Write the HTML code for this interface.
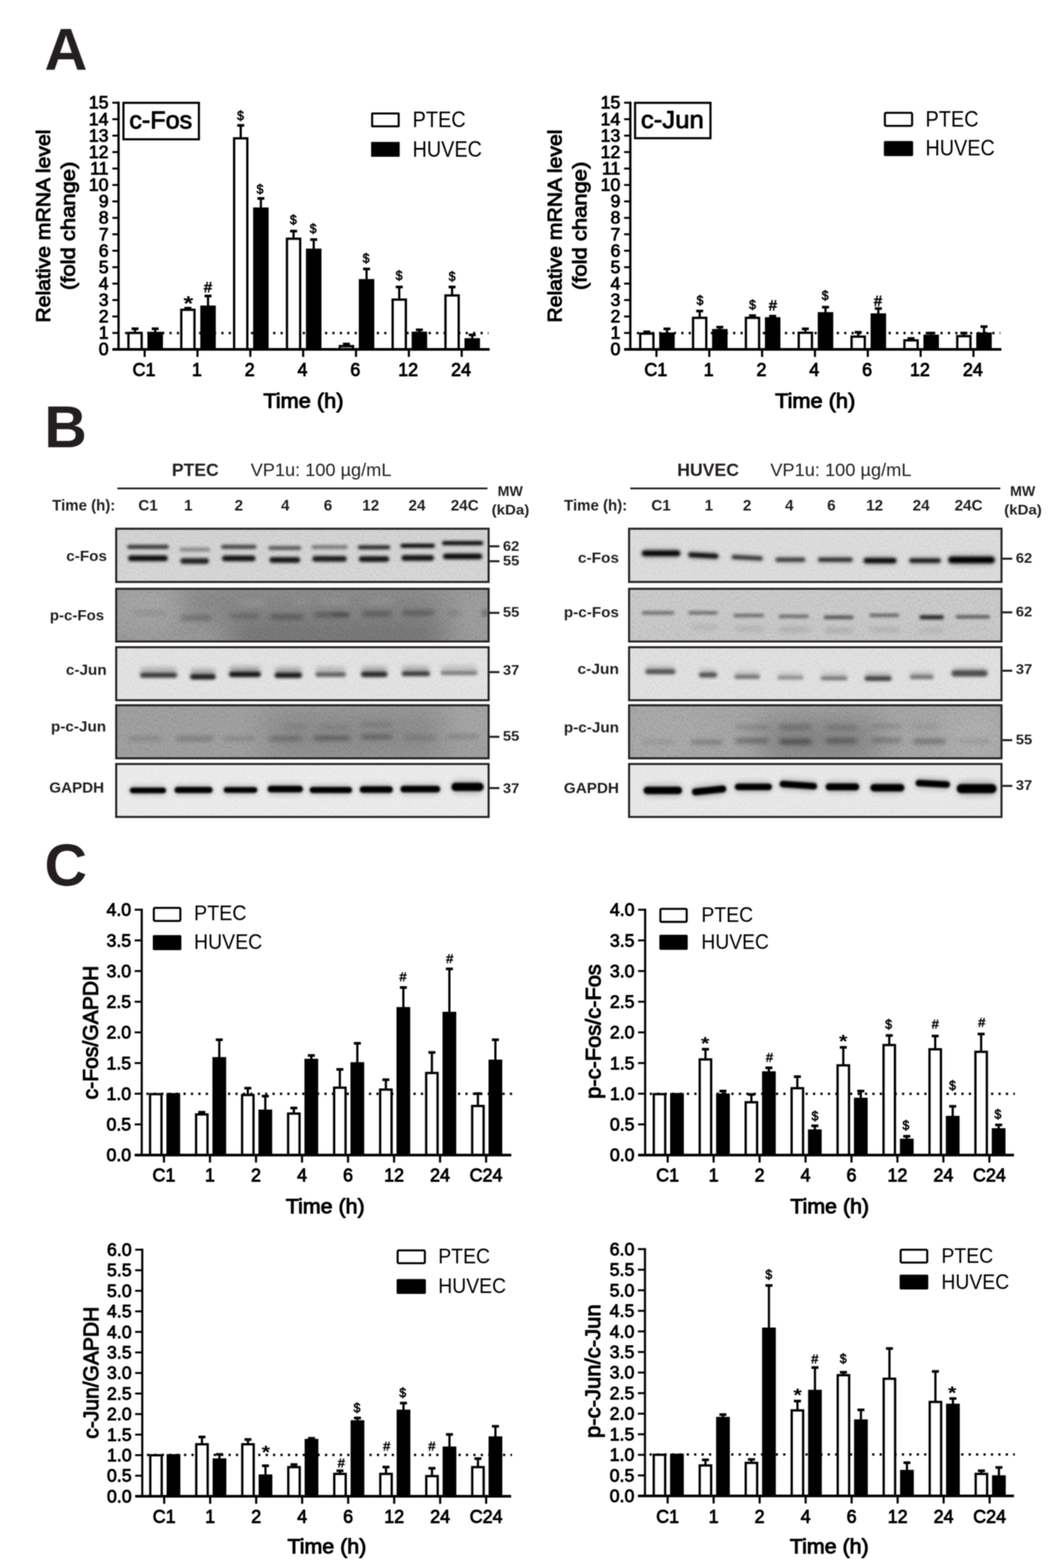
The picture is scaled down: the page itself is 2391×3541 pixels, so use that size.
<!DOCTYPE html>
<html lang="en">
<head>
<meta charset="utf-8">
<title>c-Fos and c-Jun expression in PTEC and HUVEC after VP1u treatment</title>
<style>
html, body { margin: 0; padding: 0; background: #fff; }
body { width: 2391px; height: 3541px; }
svg { display: block; font-family: "Liberation Sans", Arial, Helvetica, sans-serif; }
svg text { white-space: pre; }
</style>
</head>
<body>
<svg width="2391" height="3541" viewBox="0 0 2391 3541">
<defs><filter id="soft" x="0" y="0" width="100%" height="100%" filterUnits="userSpaceOnUse" color-interpolation-filters="sRGB"><feGaussianBlur stdDeviation="0.85"/></filter></defs>
<rect width="2391" height="3541" fill="#fff"/>
<g filter="url(#soft)">
<rect width="2391" height="3541" fill="#fff"/>
<text x="100.5" y="157.5" font-size="134" font-weight="700" fill="#231f20">A</text>
<text x="100.0" y="1010.0" font-size="133" font-weight="700" fill="#231f20">B</text>
<text x="100.5" y="2000.0" font-size="133" font-weight="700" fill="#231f20">C</text>
<g>
<line x1="282.3" y1="752.2" x2="1103.0" y2="752.2" stroke="#000" stroke-width="5.2" stroke-dasharray="5 11.72"/>
<line x1="304.9" y1="740.0" x2="304.9" y2="751.3" stroke="#000" stroke-width="5.0"/>
<line x1="297.0" y1="742.4" x2="312.8" y2="742.4" stroke="#000" stroke-width="6.0"/>
<rect x="290.0" y="751.9" width="29.8" height="37.1" fill="#fff" stroke="#000" stroke-width="5.2"/>
<line x1="350.4" y1="740.0" x2="350.4" y2="751.3" stroke="#000" stroke-width="5.0"/>
<line x1="342.5" y1="742.4" x2="358.3" y2="742.4" stroke="#000" stroke-width="6.0"/>
<rect x="332.9" y="749.3" width="35.0" height="39.7" fill="#000"/>
<line x1="424.2" y1="693.5" x2="424.2" y2="699.0" stroke="#000" stroke-width="5.0"/>
<line x1="416.3" y1="695.9" x2="432.1" y2="695.9" stroke="#000" stroke-width="6.0"/>
<rect x="409.3" y="699.6" width="29.8" height="89.4" fill="#fff" stroke="#000" stroke-width="5.2"/>
<line x1="469.7" y1="666.0" x2="469.7" y2="692.0" stroke="#000" stroke-width="5.0"/>
<line x1="461.8" y1="668.4" x2="477.6" y2="668.4" stroke="#000" stroke-width="6.0"/>
<rect x="452.2" y="690.0" width="35.0" height="99.0" fill="#000"/>
<line x1="543.5" y1="280.8" x2="543.5" y2="311.8" stroke="#000" stroke-width="5.0"/>
<line x1="535.6" y1="283.2" x2="551.4" y2="283.2" stroke="#000" stroke-width="6.0"/>
<rect x="528.6" y="312.4" width="29.8" height="476.6" fill="#fff" stroke="#000" stroke-width="5.2"/>
<line x1="589.0" y1="445.7" x2="589.0" y2="470.5" stroke="#000" stroke-width="5.0"/>
<line x1="581.1" y1="448.1" x2="596.9" y2="448.1" stroke="#000" stroke-width="6.0"/>
<rect x="571.5" y="468.5" width="35.0" height="320.5" fill="#000"/>
<line x1="662.8" y1="519.5" x2="662.8" y2="538.5" stroke="#000" stroke-width="5.0"/>
<line x1="654.9" y1="521.9" x2="670.7" y2="521.9" stroke="#000" stroke-width="6.0"/>
<rect x="647.9" y="539.1" width="29.8" height="249.9" fill="#fff" stroke="#000" stroke-width="5.2"/>
<line x1="708.3" y1="538.6" x2="708.3" y2="563.4" stroke="#000" stroke-width="5.0"/>
<line x1="700.4" y1="541.0" x2="716.2" y2="541.0" stroke="#000" stroke-width="6.0"/>
<rect x="690.8" y="561.4" width="35.0" height="227.6" fill="#000"/>
<line x1="782.1" y1="774.5" x2="782.1" y2="781.0" stroke="#000" stroke-width="5.0"/>
<line x1="774.2" y1="776.9" x2="790.0" y2="776.9" stroke="#000" stroke-width="6.0"/>
<rect x="767.2" y="781.6" width="29.8" height="7.4" fill="#c4c4c4" stroke="#000" stroke-width="5.2"/>
<line x1="827.6" y1="605.0" x2="827.6" y2="632.2" stroke="#000" stroke-width="5.0"/>
<line x1="819.7" y1="607.4" x2="835.5" y2="607.4" stroke="#000" stroke-width="6.0"/>
<rect x="810.1" y="630.2" width="35.0" height="158.8" fill="#000"/>
<line x1="901.4" y1="645.7" x2="901.4" y2="676.0" stroke="#000" stroke-width="5.0"/>
<line x1="893.5" y1="648.1" x2="909.3" y2="648.1" stroke="#000" stroke-width="6.0"/>
<rect x="886.5" y="676.6" width="29.8" height="112.4" fill="#fff" stroke="#000" stroke-width="5.2"/>
<line x1="946.9" y1="742.4" x2="946.9" y2="751.0" stroke="#000" stroke-width="5.0"/>
<line x1="939.0" y1="744.8" x2="954.8" y2="744.8" stroke="#000" stroke-width="6.0"/>
<rect x="929.4" y="749.0" width="35.0" height="40.0" fill="#000"/>
<line x1="1020.7" y1="645.7" x2="1020.7" y2="666.6" stroke="#000" stroke-width="5.0"/>
<line x1="1012.8" y1="648.1" x2="1028.6" y2="648.1" stroke="#000" stroke-width="6.0"/>
<rect x="1005.8" y="667.2" width="29.8" height="121.8" fill="#fff" stroke="#000" stroke-width="5.2"/>
<line x1="1066.2" y1="753.9" x2="1066.2" y2="765.7" stroke="#000" stroke-width="5.0"/>
<line x1="1058.3" y1="756.3" x2="1074.1" y2="756.3" stroke="#000" stroke-width="6.0"/>
<rect x="1048.7" y="763.7" width="35.0" height="25.3" fill="#000"/>
<line x1="267.6" y1="229.6" x2="267.6" y2="791.6" stroke="#000" stroke-width="5.2"/>
<line x1="253.6" y1="789.0" x2="1105.5" y2="789.0" stroke="#000" stroke-width="5.8"/>
<line x1="253.6" y1="751.9" x2="267.6" y2="751.9" stroke="#000" stroke-width="4.4"/>
<line x1="253.6" y1="714.7" x2="267.6" y2="714.7" stroke="#000" stroke-width="4.4"/>
<line x1="253.6" y1="677.6" x2="267.6" y2="677.6" stroke="#000" stroke-width="4.4"/>
<line x1="253.6" y1="640.5" x2="267.6" y2="640.5" stroke="#000" stroke-width="4.4"/>
<line x1="253.6" y1="603.4" x2="267.6" y2="603.4" stroke="#000" stroke-width="4.4"/>
<line x1="253.6" y1="566.2" x2="267.6" y2="566.2" stroke="#000" stroke-width="4.4"/>
<line x1="253.6" y1="529.1" x2="267.6" y2="529.1" stroke="#000" stroke-width="4.4"/>
<line x1="253.6" y1="492.0" x2="267.6" y2="492.0" stroke="#000" stroke-width="4.4"/>
<line x1="253.6" y1="454.8" x2="267.6" y2="454.8" stroke="#000" stroke-width="4.4"/>
<line x1="253.6" y1="417.7" x2="267.6" y2="417.7" stroke="#000" stroke-width="4.4"/>
<line x1="253.6" y1="380.6" x2="267.6" y2="380.6" stroke="#000" stroke-width="4.4"/>
<line x1="253.6" y1="343.4" x2="267.6" y2="343.4" stroke="#000" stroke-width="4.4"/>
<line x1="253.6" y1="306.3" x2="267.6" y2="306.3" stroke="#000" stroke-width="4.4"/>
<line x1="253.6" y1="269.2" x2="267.6" y2="269.2" stroke="#000" stroke-width="4.4"/>
<line x1="253.6" y1="232.0" x2="267.6" y2="232.0" stroke="#000" stroke-width="4.4"/>
<text x="245.1" y="802.4" font-size="40.5" text-anchor="end" textLength="22.2" lengthAdjust="spacingAndGlyphs" fill="#000" stroke="#000" stroke-width="1.74" stroke-linejoin="round">0</text>
<text x="245.1" y="765.3" font-size="40.5" text-anchor="end" textLength="22.2" lengthAdjust="spacingAndGlyphs" fill="#000" stroke="#000" stroke-width="1.74" stroke-linejoin="round">1</text>
<text x="245.1" y="728.1" font-size="40.5" text-anchor="end" textLength="22.2" lengthAdjust="spacingAndGlyphs" fill="#000" stroke="#000" stroke-width="1.74" stroke-linejoin="round">2</text>
<text x="245.1" y="691.0" font-size="40.5" text-anchor="end" textLength="22.2" lengthAdjust="spacingAndGlyphs" fill="#000" stroke="#000" stroke-width="1.74" stroke-linejoin="round">3</text>
<text x="245.1" y="653.9" font-size="40.5" text-anchor="end" textLength="22.2" lengthAdjust="spacingAndGlyphs" fill="#000" stroke="#000" stroke-width="1.74" stroke-linejoin="round">4</text>
<text x="245.1" y="616.8" font-size="40.5" text-anchor="end" textLength="22.2" lengthAdjust="spacingAndGlyphs" fill="#000" stroke="#000" stroke-width="1.74" stroke-linejoin="round">5</text>
<text x="245.1" y="579.6" font-size="40.5" text-anchor="end" textLength="22.2" lengthAdjust="spacingAndGlyphs" fill="#000" stroke="#000" stroke-width="1.74" stroke-linejoin="round">6</text>
<text x="245.1" y="542.5" font-size="40.5" text-anchor="end" textLength="22.2" lengthAdjust="spacingAndGlyphs" fill="#000" stroke="#000" stroke-width="1.74" stroke-linejoin="round">7</text>
<text x="245.1" y="505.4" font-size="40.5" text-anchor="end" textLength="22.2" lengthAdjust="spacingAndGlyphs" fill="#000" stroke="#000" stroke-width="1.74" stroke-linejoin="round">8</text>
<text x="245.1" y="468.2" font-size="40.5" text-anchor="end" textLength="22.2" lengthAdjust="spacingAndGlyphs" fill="#000" stroke="#000" stroke-width="1.74" stroke-linejoin="round">9</text>
<text x="245.1" y="431.1" font-size="40.5" text-anchor="end" textLength="44.5" lengthAdjust="spacingAndGlyphs" fill="#000" stroke="#000" stroke-width="1.74" stroke-linejoin="round">10</text>
<text x="245.1" y="394.0" font-size="40.5" text-anchor="end" textLength="41.5" lengthAdjust="spacingAndGlyphs" fill="#000" stroke="#000" stroke-width="1.74" stroke-linejoin="round">11</text>
<text x="245.1" y="356.8" font-size="40.5" text-anchor="end" textLength="44.5" lengthAdjust="spacingAndGlyphs" fill="#000" stroke="#000" stroke-width="1.74" stroke-linejoin="round">12</text>
<text x="245.1" y="319.7" font-size="40.5" text-anchor="end" textLength="44.5" lengthAdjust="spacingAndGlyphs" fill="#000" stroke="#000" stroke-width="1.74" stroke-linejoin="round">13</text>
<text x="245.1" y="282.6" font-size="40.5" text-anchor="end" textLength="44.5" lengthAdjust="spacingAndGlyphs" fill="#000" stroke="#000" stroke-width="1.74" stroke-linejoin="round">14</text>
<text x="245.1" y="245.4" font-size="40.5" text-anchor="end" textLength="44.5" lengthAdjust="spacingAndGlyphs" fill="#000" stroke="#000" stroke-width="1.74" stroke-linejoin="round">15</text>
<line x1="326.6" y1="789.0" x2="326.6" y2="806.0" stroke="#000" stroke-width="4.8"/>
<text x="325.1" y="848.6" font-size="42" text-anchor="middle" textLength="51.8" lengthAdjust="spacingAndGlyphs" fill="#000" stroke="#000" stroke-width="1.81" stroke-linejoin="round">C1</text>
<line x1="445.9" y1="789.0" x2="445.9" y2="806.0" stroke="#000" stroke-width="4.8"/>
<text x="444.4" y="848.6" font-size="42" text-anchor="middle" textLength="22.5" lengthAdjust="spacingAndGlyphs" fill="#000" stroke="#000" stroke-width="1.81" stroke-linejoin="round">1</text>
<line x1="565.2" y1="789.0" x2="565.2" y2="806.0" stroke="#000" stroke-width="4.8"/>
<text x="563.7" y="848.6" font-size="42" text-anchor="middle" textLength="22.5" lengthAdjust="spacingAndGlyphs" fill="#000" stroke="#000" stroke-width="1.81" stroke-linejoin="round">2</text>
<line x1="684.5" y1="789.0" x2="684.5" y2="806.0" stroke="#000" stroke-width="4.8"/>
<text x="683.0" y="848.6" font-size="42" text-anchor="middle" textLength="22.5" lengthAdjust="spacingAndGlyphs" fill="#000" stroke="#000" stroke-width="1.81" stroke-linejoin="round">4</text>
<line x1="803.8" y1="789.0" x2="803.8" y2="806.0" stroke="#000" stroke-width="4.8"/>
<text x="802.3" y="848.6" font-size="42" text-anchor="middle" textLength="22.5" lengthAdjust="spacingAndGlyphs" fill="#000" stroke="#000" stroke-width="1.81" stroke-linejoin="round">6</text>
<line x1="923.1" y1="789.0" x2="923.1" y2="806.0" stroke="#000" stroke-width="4.8"/>
<text x="921.6" y="848.6" font-size="42" text-anchor="middle" textLength="45.0" lengthAdjust="spacingAndGlyphs" fill="#000" stroke="#000" stroke-width="1.81" stroke-linejoin="round">12</text>
<line x1="1042.4" y1="789.0" x2="1042.4" y2="806.0" stroke="#000" stroke-width="4.8"/>
<text x="1040.9" y="848.6" font-size="42" text-anchor="middle" textLength="45.0" lengthAdjust="spacingAndGlyphs" fill="#000" stroke="#000" stroke-width="1.81" stroke-linejoin="round">24</text>
<text x="685.0" y="920.5" font-size="47" text-anchor="middle" textLength="181.0" lengthAdjust="spacingAndGlyphs" fill="#000" stroke="#000" stroke-width="2.02" stroke-linejoin="round">Time (h)</text>
<text transform="translate(112.5 510.5) rotate(-90)" font-size="44" text-anchor="middle" textLength="436.0" lengthAdjust="spacingAndGlyphs" fill="#000" stroke="#000" stroke-width="1.89" stroke-linejoin="round">Relative mRNA level</text>
<text transform="translate(168.5 510.0) rotate(-90)" font-size="44" text-anchor="middle" textLength="290.0" lengthAdjust="spacingAndGlyphs" fill="#000" stroke="#000" stroke-width="1.89" stroke-linejoin="round">(fold change)</text>
<rect x="840.2" y="256.3" width="59.9" height="28.9" fill="#fff" stroke="#000" stroke-width="4.6" rx="0.5"/>
<rect x="837.9" y="320.5" width="64.5" height="33.5" fill="#000" rx="1.0"/>
<text x="931.5" y="287.0" font-size="50" textLength="120.0" lengthAdjust="spacingAndGlyphs" fill="#000">PTEC</text>
<text x="931.5" y="353.5" font-size="50" textLength="156.5" lengthAdjust="spacingAndGlyphs" fill="#000">HUVEC</text>
<text x="425.2" y="701.0" font-size="46" font-weight="700" text-anchor="middle" textLength="22.0" lengthAdjust="spacingAndGlyphs" fill="#000">*</text>
<text x="469.6" y="659.7" font-size="33" text-anchor="middle" textLength="18.5" lengthAdjust="spacingAndGlyphs" fill="#000" stroke="#000" stroke-width="1.32" stroke-linejoin="round">#</text>
<text x="543.0" y="270.5" font-size="29.5" text-anchor="middle" textLength="15.5" lengthAdjust="spacingAndGlyphs" fill="#000" stroke="#000" stroke-width="1.18" stroke-linejoin="round">$</text>
<text x="587.0" y="437.0" font-size="29.5" text-anchor="middle" textLength="15.5" lengthAdjust="spacingAndGlyphs" fill="#000" stroke="#000" stroke-width="1.18" stroke-linejoin="round">$</text>
<text x="662.3" y="506.0" font-size="29.5" text-anchor="middle" textLength="15.5" lengthAdjust="spacingAndGlyphs" fill="#000" stroke="#000" stroke-width="1.18" stroke-linejoin="round">$</text>
<text x="707.0" y="526.0" font-size="29.5" text-anchor="middle" textLength="15.5" lengthAdjust="spacingAndGlyphs" fill="#000" stroke="#000" stroke-width="1.18" stroke-linejoin="round">$</text>
<text x="826.4" y="592.8" font-size="29.5" text-anchor="middle" textLength="15.5" lengthAdjust="spacingAndGlyphs" fill="#000" stroke="#000" stroke-width="1.18" stroke-linejoin="round">$</text>
<text x="901.0" y="632.0" font-size="29.5" text-anchor="middle" textLength="15.5" lengthAdjust="spacingAndGlyphs" fill="#000" stroke="#000" stroke-width="1.18" stroke-linejoin="round">$</text>
<text x="1020.7" y="633.5" font-size="29.5" text-anchor="middle" textLength="15.5" lengthAdjust="spacingAndGlyphs" fill="#000" stroke="#000" stroke-width="1.18" stroke-linejoin="round">$</text>
<rect x="278.7" y="232.2" width="170.4" height="82.4" fill="#fff" stroke="#000" stroke-width="4.8"/>
<text x="362.9" y="290.0" font-size="55" text-anchor="middle" textLength="142.0" lengthAdjust="spacingAndGlyphs" fill="#000" stroke="#000" stroke-width="1.76" stroke-linejoin="round">c-Fos</text>
</g>
<g>
<line x1="1437.8" y1="752.2" x2="2258.5" y2="752.2" stroke="#000" stroke-width="5.2" stroke-dasharray="5 11.72"/>
<line x1="1460.4" y1="747.0" x2="1460.4" y2="752.8" stroke="#000" stroke-width="5.0"/>
<line x1="1452.5" y1="749.4" x2="1468.3" y2="749.4" stroke="#000" stroke-width="6.0"/>
<rect x="1445.5" y="753.4" width="29.8" height="35.6" fill="#fff" stroke="#000" stroke-width="5.2"/>
<line x1="1505.9" y1="740.2" x2="1505.9" y2="752.8" stroke="#000" stroke-width="5.0"/>
<line x1="1498.0" y1="742.6" x2="1513.8" y2="742.6" stroke="#000" stroke-width="6.0"/>
<rect x="1488.4" y="750.8" width="35.0" height="38.2" fill="#000"/>
<line x1="1579.7" y1="700.0" x2="1579.7" y2="717.2" stroke="#000" stroke-width="5.0"/>
<line x1="1571.8" y1="702.4" x2="1587.6" y2="702.4" stroke="#000" stroke-width="6.0"/>
<rect x="1564.8" y="717.8" width="29.8" height="71.2" fill="#fff" stroke="#000" stroke-width="5.2"/>
<line x1="1625.2" y1="736.4" x2="1625.2" y2="745.0" stroke="#000" stroke-width="5.0"/>
<line x1="1617.3" y1="738.8" x2="1633.1" y2="738.8" stroke="#000" stroke-width="6.0"/>
<rect x="1607.7" y="743.0" width="35.0" height="46.0" fill="#000"/>
<line x1="1699.0" y1="710.4" x2="1699.0" y2="717.2" stroke="#000" stroke-width="5.0"/>
<line x1="1691.1" y1="712.8" x2="1706.9" y2="712.8" stroke="#000" stroke-width="6.0"/>
<rect x="1684.1" y="717.8" width="29.8" height="71.2" fill="#fff" stroke="#000" stroke-width="5.2"/>
<line x1="1744.5" y1="711.5" x2="1744.5" y2="718.3" stroke="#000" stroke-width="5.0"/>
<line x1="1736.6" y1="713.9" x2="1752.4" y2="713.9" stroke="#000" stroke-width="6.0"/>
<rect x="1727.0" y="716.3" width="35.0" height="72.7" fill="#000"/>
<line x1="1818.3" y1="740.2" x2="1818.3" y2="750.9" stroke="#000" stroke-width="5.0"/>
<line x1="1810.4" y1="742.6" x2="1826.2" y2="742.6" stroke="#000" stroke-width="6.0"/>
<rect x="1803.4" y="751.5" width="29.8" height="37.5" fill="#fff" stroke="#000" stroke-width="5.2"/>
<line x1="1863.8" y1="691.3" x2="1863.8" y2="706.9" stroke="#000" stroke-width="5.0"/>
<line x1="1855.9" y1="693.7" x2="1871.7" y2="693.7" stroke="#000" stroke-width="6.0"/>
<rect x="1846.3" y="704.9" width="35.0" height="84.1" fill="#000"/>
<line x1="1937.6" y1="747.9" x2="1937.6" y2="759.6" stroke="#000" stroke-width="5.0"/>
<line x1="1929.7" y1="750.3" x2="1945.5" y2="750.3" stroke="#000" stroke-width="6.0"/>
<rect x="1922.7" y="760.2" width="29.8" height="28.8" fill="#fff" stroke="#000" stroke-width="5.2"/>
<line x1="1983.1" y1="694.3" x2="1983.1" y2="709.6" stroke="#000" stroke-width="5.0"/>
<line x1="1975.2" y1="696.7" x2="1991.0" y2="696.7" stroke="#000" stroke-width="6.0"/>
<rect x="1965.6" y="707.6" width="35.0" height="81.4" fill="#000"/>
<line x1="2056.9" y1="762.0" x2="2056.9" y2="768.0" stroke="#000" stroke-width="5.0"/>
<line x1="2049.0" y1="764.4" x2="2064.8" y2="764.4" stroke="#000" stroke-width="6.0"/>
<rect x="2042.0" y="768.6" width="29.8" height="20.4" fill="#fff" stroke="#000" stroke-width="5.2"/>
<line x1="2102.4" y1="749.8" x2="2102.4" y2="757.7" stroke="#000" stroke-width="5.0"/>
<line x1="2094.5" y1="752.2" x2="2110.3" y2="752.2" stroke="#000" stroke-width="6.0"/>
<rect x="2084.9" y="755.7" width="35.0" height="33.3" fill="#000"/>
<line x1="2176.2" y1="749.8" x2="2176.2" y2="758.5" stroke="#000" stroke-width="5.0"/>
<line x1="2168.3" y1="752.2" x2="2184.1" y2="752.2" stroke="#000" stroke-width="6.0"/>
<rect x="2161.3" y="759.1" width="29.8" height="29.9" fill="#fff" stroke="#000" stroke-width="5.2"/>
<line x1="2221.7" y1="735.2" x2="2221.7" y2="752.8" stroke="#000" stroke-width="5.0"/>
<line x1="2213.8" y1="737.6" x2="2229.6" y2="737.6" stroke="#000" stroke-width="6.0"/>
<rect x="2204.2" y="750.8" width="35.0" height="38.2" fill="#000"/>
<line x1="1423.1" y1="229.6" x2="1423.1" y2="791.6" stroke="#000" stroke-width="5.2"/>
<line x1="1409.1" y1="789.0" x2="2261.0" y2="789.0" stroke="#000" stroke-width="5.8"/>
<line x1="1409.1" y1="751.9" x2="1423.1" y2="751.9" stroke="#000" stroke-width="4.4"/>
<line x1="1409.1" y1="714.7" x2="1423.1" y2="714.7" stroke="#000" stroke-width="4.4"/>
<line x1="1409.1" y1="677.6" x2="1423.1" y2="677.6" stroke="#000" stroke-width="4.4"/>
<line x1="1409.1" y1="640.5" x2="1423.1" y2="640.5" stroke="#000" stroke-width="4.4"/>
<line x1="1409.1" y1="603.4" x2="1423.1" y2="603.4" stroke="#000" stroke-width="4.4"/>
<line x1="1409.1" y1="566.2" x2="1423.1" y2="566.2" stroke="#000" stroke-width="4.4"/>
<line x1="1409.1" y1="529.1" x2="1423.1" y2="529.1" stroke="#000" stroke-width="4.4"/>
<line x1="1409.1" y1="492.0" x2="1423.1" y2="492.0" stroke="#000" stroke-width="4.4"/>
<line x1="1409.1" y1="454.8" x2="1423.1" y2="454.8" stroke="#000" stroke-width="4.4"/>
<line x1="1409.1" y1="417.7" x2="1423.1" y2="417.7" stroke="#000" stroke-width="4.4"/>
<line x1="1409.1" y1="380.6" x2="1423.1" y2="380.6" stroke="#000" stroke-width="4.4"/>
<line x1="1409.1" y1="343.4" x2="1423.1" y2="343.4" stroke="#000" stroke-width="4.4"/>
<line x1="1409.1" y1="306.3" x2="1423.1" y2="306.3" stroke="#000" stroke-width="4.4"/>
<line x1="1409.1" y1="269.2" x2="1423.1" y2="269.2" stroke="#000" stroke-width="4.4"/>
<line x1="1409.1" y1="232.0" x2="1423.1" y2="232.0" stroke="#000" stroke-width="4.4"/>
<text x="1400.6" y="802.4" font-size="40.5" text-anchor="end" textLength="22.2" lengthAdjust="spacingAndGlyphs" fill="#000" stroke="#000" stroke-width="1.74" stroke-linejoin="round">0</text>
<text x="1400.6" y="765.3" font-size="40.5" text-anchor="end" textLength="22.2" lengthAdjust="spacingAndGlyphs" fill="#000" stroke="#000" stroke-width="1.74" stroke-linejoin="round">1</text>
<text x="1400.6" y="728.1" font-size="40.5" text-anchor="end" textLength="22.2" lengthAdjust="spacingAndGlyphs" fill="#000" stroke="#000" stroke-width="1.74" stroke-linejoin="round">2</text>
<text x="1400.6" y="691.0" font-size="40.5" text-anchor="end" textLength="22.2" lengthAdjust="spacingAndGlyphs" fill="#000" stroke="#000" stroke-width="1.74" stroke-linejoin="round">3</text>
<text x="1400.6" y="653.9" font-size="40.5" text-anchor="end" textLength="22.2" lengthAdjust="spacingAndGlyphs" fill="#000" stroke="#000" stroke-width="1.74" stroke-linejoin="round">4</text>
<text x="1400.6" y="616.8" font-size="40.5" text-anchor="end" textLength="22.2" lengthAdjust="spacingAndGlyphs" fill="#000" stroke="#000" stroke-width="1.74" stroke-linejoin="round">5</text>
<text x="1400.6" y="579.6" font-size="40.5" text-anchor="end" textLength="22.2" lengthAdjust="spacingAndGlyphs" fill="#000" stroke="#000" stroke-width="1.74" stroke-linejoin="round">6</text>
<text x="1400.6" y="542.5" font-size="40.5" text-anchor="end" textLength="22.2" lengthAdjust="spacingAndGlyphs" fill="#000" stroke="#000" stroke-width="1.74" stroke-linejoin="round">7</text>
<text x="1400.6" y="505.4" font-size="40.5" text-anchor="end" textLength="22.2" lengthAdjust="spacingAndGlyphs" fill="#000" stroke="#000" stroke-width="1.74" stroke-linejoin="round">8</text>
<text x="1400.6" y="468.2" font-size="40.5" text-anchor="end" textLength="22.2" lengthAdjust="spacingAndGlyphs" fill="#000" stroke="#000" stroke-width="1.74" stroke-linejoin="round">9</text>
<text x="1400.6" y="431.1" font-size="40.5" text-anchor="end" textLength="44.5" lengthAdjust="spacingAndGlyphs" fill="#000" stroke="#000" stroke-width="1.74" stroke-linejoin="round">10</text>
<text x="1400.6" y="394.0" font-size="40.5" text-anchor="end" textLength="41.5" lengthAdjust="spacingAndGlyphs" fill="#000" stroke="#000" stroke-width="1.74" stroke-linejoin="round">11</text>
<text x="1400.6" y="356.8" font-size="40.5" text-anchor="end" textLength="44.5" lengthAdjust="spacingAndGlyphs" fill="#000" stroke="#000" stroke-width="1.74" stroke-linejoin="round">12</text>
<text x="1400.6" y="319.7" font-size="40.5" text-anchor="end" textLength="44.5" lengthAdjust="spacingAndGlyphs" fill="#000" stroke="#000" stroke-width="1.74" stroke-linejoin="round">13</text>
<text x="1400.6" y="282.6" font-size="40.5" text-anchor="end" textLength="44.5" lengthAdjust="spacingAndGlyphs" fill="#000" stroke="#000" stroke-width="1.74" stroke-linejoin="round">14</text>
<text x="1400.6" y="245.4" font-size="40.5" text-anchor="end" textLength="44.5" lengthAdjust="spacingAndGlyphs" fill="#000" stroke="#000" stroke-width="1.74" stroke-linejoin="round">15</text>
<line x1="1482.1" y1="789.0" x2="1482.1" y2="806.0" stroke="#000" stroke-width="4.8"/>
<text x="1480.6" y="848.6" font-size="42" text-anchor="middle" textLength="51.8" lengthAdjust="spacingAndGlyphs" fill="#000" stroke="#000" stroke-width="1.81" stroke-linejoin="round">C1</text>
<line x1="1601.4" y1="789.0" x2="1601.4" y2="806.0" stroke="#000" stroke-width="4.8"/>
<text x="1599.9" y="848.6" font-size="42" text-anchor="middle" textLength="22.5" lengthAdjust="spacingAndGlyphs" fill="#000" stroke="#000" stroke-width="1.81" stroke-linejoin="round">1</text>
<line x1="1720.7" y1="789.0" x2="1720.7" y2="806.0" stroke="#000" stroke-width="4.8"/>
<text x="1719.2" y="848.6" font-size="42" text-anchor="middle" textLength="22.5" lengthAdjust="spacingAndGlyphs" fill="#000" stroke="#000" stroke-width="1.81" stroke-linejoin="round">2</text>
<line x1="1840.0" y1="789.0" x2="1840.0" y2="806.0" stroke="#000" stroke-width="4.8"/>
<text x="1838.5" y="848.6" font-size="42" text-anchor="middle" textLength="22.5" lengthAdjust="spacingAndGlyphs" fill="#000" stroke="#000" stroke-width="1.81" stroke-linejoin="round">4</text>
<line x1="1959.3" y1="789.0" x2="1959.3" y2="806.0" stroke="#000" stroke-width="4.8"/>
<text x="1957.8" y="848.6" font-size="42" text-anchor="middle" textLength="22.5" lengthAdjust="spacingAndGlyphs" fill="#000" stroke="#000" stroke-width="1.81" stroke-linejoin="round">6</text>
<line x1="2078.6" y1="789.0" x2="2078.6" y2="806.0" stroke="#000" stroke-width="4.8"/>
<text x="2077.1" y="848.6" font-size="42" text-anchor="middle" textLength="45.0" lengthAdjust="spacingAndGlyphs" fill="#000" stroke="#000" stroke-width="1.81" stroke-linejoin="round">12</text>
<line x1="2197.9" y1="789.0" x2="2197.9" y2="806.0" stroke="#000" stroke-width="4.8"/>
<text x="2196.4" y="848.6" font-size="42" text-anchor="middle" textLength="45.0" lengthAdjust="spacingAndGlyphs" fill="#000" stroke="#000" stroke-width="1.81" stroke-linejoin="round">24</text>
<text x="1840.5" y="920.5" font-size="47" text-anchor="middle" textLength="181.0" lengthAdjust="spacingAndGlyphs" fill="#000" stroke="#000" stroke-width="2.02" stroke-linejoin="round">Time (h)</text>
<text transform="translate(1268.0 510.5) rotate(-90)" font-size="44" text-anchor="middle" textLength="436.0" lengthAdjust="spacingAndGlyphs" fill="#000" stroke="#000" stroke-width="1.89" stroke-linejoin="round">Relative mRNA level</text>
<text transform="translate(1324.0 510.0) rotate(-90)" font-size="44" text-anchor="middle" textLength="290.0" lengthAdjust="spacingAndGlyphs" fill="#000" stroke="#000" stroke-width="1.89" stroke-linejoin="round">(fold change)</text>
<rect x="1997.9" y="254.8" width="61.4" height="29.4" fill="#fff" stroke="#000" stroke-width="4.6" rx="2.5"/>
<rect x="1995.6" y="318.5" width="66.0" height="34.0" fill="#000" rx="3.0"/>
<text x="2089.5" y="286.0" font-size="50" textLength="120.0" lengthAdjust="spacingAndGlyphs" fill="#000">PTEC</text>
<text x="2089.5" y="351.0" font-size="50" textLength="156.5" lengthAdjust="spacingAndGlyphs" fill="#000">HUVEC</text>
<text x="1580.5" y="687.7" font-size="29.5" text-anchor="middle" textLength="15.5" lengthAdjust="spacingAndGlyphs" fill="#000" stroke="#000" stroke-width="1.18" stroke-linejoin="round">$</text>
<text x="1699.0" y="698.0" font-size="29.5" text-anchor="middle" textLength="15.5" lengthAdjust="spacingAndGlyphs" fill="#000" stroke="#000" stroke-width="1.18" stroke-linejoin="round">$</text>
<text x="1745.0" y="701.0" font-size="33" text-anchor="middle" textLength="18.5" lengthAdjust="spacingAndGlyphs" fill="#000" stroke="#000" stroke-width="1.32" stroke-linejoin="round">#</text>
<text x="1862.9" y="677.0" font-size="29.5" text-anchor="middle" textLength="15.5" lengthAdjust="spacingAndGlyphs" fill="#000" stroke="#000" stroke-width="1.18" stroke-linejoin="round">$</text>
<text x="1982.2" y="690.6" font-size="33" text-anchor="middle" textLength="18.5" lengthAdjust="spacingAndGlyphs" fill="#000" stroke="#000" stroke-width="1.32" stroke-linejoin="round">#</text>
<rect x="1433.9" y="232.2" width="170.2" height="79.9" fill="#fff" stroke="#000" stroke-width="4.8"/>
<text x="1518.0" y="288.7" font-size="55" text-anchor="middle" textLength="142.0" lengthAdjust="spacingAndGlyphs" fill="#000" stroke="#000" stroke-width="1.76" stroke-linejoin="round">c-Jun</text>
</g>
<g>
<line x1="330.5" y1="2470.2" x2="1156.5" y2="2470.2" stroke="#000" stroke-width="5.2" stroke-dasharray="5 11.75"/>
<rect x="338.8" y="2470.9" width="25.8" height="137.5" fill="#fff" stroke="#000" stroke-width="5.2"/>
<rect x="375.7" y="2468.3" width="31.0" height="140.1" fill="#000"/>
<line x1="455.6" y1="2509.3" x2="455.6" y2="2516.1" stroke="#000" stroke-width="5.0"/>
<line x1="447.7" y1="2511.7" x2="463.5" y2="2511.7" stroke="#000" stroke-width="6.0"/>
<rect x="442.7" y="2516.7" width="25.8" height="91.7" fill="#fff" stroke="#000" stroke-width="5.2"/>
<line x1="495.1" y1="2345.7" x2="495.1" y2="2389.2" stroke="#000" stroke-width="5.0"/>
<line x1="487.2" y1="2348.1" x2="503.0" y2="2348.1" stroke="#000" stroke-width="6.0"/>
<rect x="479.6" y="2387.2" width="31.0" height="221.2" fill="#000"/>
<line x1="559.5" y1="2455.0" x2="559.5" y2="2472.2" stroke="#000" stroke-width="5.0"/>
<line x1="551.6" y1="2457.4" x2="567.4" y2="2457.4" stroke="#000" stroke-width="6.0"/>
<rect x="546.6" y="2472.8" width="25.8" height="135.6" fill="#fff" stroke="#000" stroke-width="5.2"/>
<line x1="599.0" y1="2473.0" x2="599.0" y2="2507.7" stroke="#000" stroke-width="5.0"/>
<line x1="591.1" y1="2475.4" x2="606.9" y2="2475.4" stroke="#000" stroke-width="6.0"/>
<rect x="583.5" y="2505.7" width="31.0" height="102.7" fill="#000"/>
<line x1="663.4" y1="2499.8" x2="663.4" y2="2514.2" stroke="#000" stroke-width="5.0"/>
<line x1="655.5" y1="2502.2" x2="671.3" y2="2502.2" stroke="#000" stroke-width="6.0"/>
<rect x="650.5" y="2514.8" width="25.8" height="93.6" fill="#fff" stroke="#000" stroke-width="5.2"/>
<line x1="702.9" y1="2381.2" x2="702.9" y2="2393.0" stroke="#000" stroke-width="5.0"/>
<line x1="695.0" y1="2383.6" x2="710.8" y2="2383.6" stroke="#000" stroke-width="6.0"/>
<rect x="687.4" y="2391.0" width="31.0" height="217.4" fill="#000"/>
<line x1="767.3" y1="2412.6" x2="767.3" y2="2455.7" stroke="#000" stroke-width="5.0"/>
<line x1="759.4" y1="2415.0" x2="775.2" y2="2415.0" stroke="#000" stroke-width="6.0"/>
<rect x="754.4" y="2456.3" width="25.8" height="152.1" fill="#fff" stroke="#000" stroke-width="5.2"/>
<line x1="806.8" y1="2353.7" x2="806.8" y2="2400.7" stroke="#000" stroke-width="5.0"/>
<line x1="798.9" y1="2356.1" x2="814.7" y2="2356.1" stroke="#000" stroke-width="6.0"/>
<rect x="791.3" y="2398.7" width="31.0" height="209.7" fill="#000"/>
<line x1="871.2" y1="2435.9" x2="871.2" y2="2460.0" stroke="#000" stroke-width="5.0"/>
<line x1="863.3" y1="2438.3" x2="879.1" y2="2438.3" stroke="#000" stroke-width="6.0"/>
<rect x="858.3" y="2460.6" width="25.8" height="147.8" fill="#fff" stroke="#000" stroke-width="5.2"/>
<line x1="910.7" y1="2227.7" x2="910.7" y2="2276.2" stroke="#000" stroke-width="5.0"/>
<line x1="902.8" y1="2230.1" x2="918.6" y2="2230.1" stroke="#000" stroke-width="6.0"/>
<rect x="895.2" y="2274.2" width="31.0" height="334.2" fill="#000"/>
<line x1="975.1" y1="2374.3" x2="975.1" y2="2422.5" stroke="#000" stroke-width="5.0"/>
<line x1="967.2" y1="2376.7" x2="983.0" y2="2376.7" stroke="#000" stroke-width="6.0"/>
<rect x="962.2" y="2423.1" width="25.8" height="185.3" fill="#fff" stroke="#000" stroke-width="5.2"/>
<line x1="1014.6" y1="2185.6" x2="1014.6" y2="2286.9" stroke="#000" stroke-width="5.0"/>
<line x1="1006.7" y1="2188.0" x2="1022.5" y2="2188.0" stroke="#000" stroke-width="6.0"/>
<rect x="999.1" y="2284.9" width="31.0" height="323.5" fill="#000"/>
<line x1="1079.0" y1="2467.3" x2="1079.0" y2="2497.0" stroke="#000" stroke-width="5.0"/>
<line x1="1071.1" y1="2469.7" x2="1086.9" y2="2469.7" stroke="#000" stroke-width="6.0"/>
<rect x="1066.1" y="2497.6" width="25.8" height="110.8" fill="#fff" stroke="#000" stroke-width="5.2"/>
<line x1="1118.5" y1="2345.7" x2="1118.5" y2="2394.9" stroke="#000" stroke-width="5.0"/>
<line x1="1110.6" y1="2348.1" x2="1126.4" y2="2348.1" stroke="#000" stroke-width="6.0"/>
<rect x="1103.0" y="2392.9" width="31.0" height="215.5" fill="#000"/>
<line x1="320.0" y1="2052.0" x2="320.0" y2="2610.8" stroke="#000" stroke-width="4.8"/>
<line x1="304.0" y1="2608.4" x2="1154.5" y2="2608.4" stroke="#000" stroke-width="6.0"/>
<line x1="304.0" y1="2539.2" x2="320.0" y2="2539.2" stroke="#000" stroke-width="4.4"/>
<line x1="304.0" y1="2469.9" x2="320.0" y2="2469.9" stroke="#000" stroke-width="4.4"/>
<line x1="304.0" y1="2400.7" x2="320.0" y2="2400.7" stroke="#000" stroke-width="4.4"/>
<line x1="304.0" y1="2331.4" x2="320.0" y2="2331.4" stroke="#000" stroke-width="4.4"/>
<line x1="304.0" y1="2262.2" x2="320.0" y2="2262.2" stroke="#000" stroke-width="4.4"/>
<line x1="304.0" y1="2192.9" x2="320.0" y2="2192.9" stroke="#000" stroke-width="4.4"/>
<line x1="304.0" y1="2123.7" x2="320.0" y2="2123.7" stroke="#000" stroke-width="4.4"/>
<line x1="304.0" y1="2054.4" x2="320.0" y2="2054.4" stroke="#000" stroke-width="4.4"/>
<text x="296.0" y="2622.2" font-size="41" text-anchor="end" textLength="55.6" lengthAdjust="spacingAndGlyphs" fill="#000" stroke="#000" stroke-width="1.76" stroke-linejoin="round">0.0</text>
<text x="296.0" y="2553.0" font-size="41" text-anchor="end" textLength="55.6" lengthAdjust="spacingAndGlyphs" fill="#000" stroke="#000" stroke-width="1.76" stroke-linejoin="round">0.5</text>
<text x="296.0" y="2483.7" font-size="41" text-anchor="end" textLength="55.6" lengthAdjust="spacingAndGlyphs" fill="#000" stroke="#000" stroke-width="1.76" stroke-linejoin="round">1.0</text>
<text x="296.0" y="2414.5" font-size="41" text-anchor="end" textLength="55.6" lengthAdjust="spacingAndGlyphs" fill="#000" stroke="#000" stroke-width="1.76" stroke-linejoin="round">1.5</text>
<text x="296.0" y="2345.2" font-size="41" text-anchor="end" textLength="55.6" lengthAdjust="spacingAndGlyphs" fill="#000" stroke="#000" stroke-width="1.76" stroke-linejoin="round">2.0</text>
<text x="296.0" y="2276.0" font-size="41" text-anchor="end" textLength="55.6" lengthAdjust="spacingAndGlyphs" fill="#000" stroke="#000" stroke-width="1.76" stroke-linejoin="round">2.5</text>
<text x="296.0" y="2206.7" font-size="41" text-anchor="end" textLength="55.6" lengthAdjust="spacingAndGlyphs" fill="#000" stroke="#000" stroke-width="1.76" stroke-linejoin="round">3.0</text>
<text x="296.0" y="2137.5" font-size="41" text-anchor="end" textLength="55.6" lengthAdjust="spacingAndGlyphs" fill="#000" stroke="#000" stroke-width="1.76" stroke-linejoin="round">3.5</text>
<text x="296.0" y="2068.2" font-size="41" text-anchor="end" textLength="55.6" lengthAdjust="spacingAndGlyphs" fill="#000" stroke="#000" stroke-width="1.76" stroke-linejoin="round">4.0</text>
<line x1="370.2" y1="2608.4" x2="370.2" y2="2625.4" stroke="#000" stroke-width="4.8"/>
<text x="370.2" y="2668.0" font-size="42" text-anchor="middle" textLength="51.8" lengthAdjust="spacingAndGlyphs" fill="#000" stroke="#000" stroke-width="1.81" stroke-linejoin="round">C1</text>
<line x1="474.1" y1="2608.4" x2="474.1" y2="2625.4" stroke="#000" stroke-width="4.8"/>
<text x="474.1" y="2668.0" font-size="42" text-anchor="middle" textLength="22.5" lengthAdjust="spacingAndGlyphs" fill="#000" stroke="#000" stroke-width="1.81" stroke-linejoin="round">1</text>
<line x1="578.0" y1="2608.4" x2="578.0" y2="2625.4" stroke="#000" stroke-width="4.8"/>
<text x="578.0" y="2668.0" font-size="42" text-anchor="middle" textLength="22.5" lengthAdjust="spacingAndGlyphs" fill="#000" stroke="#000" stroke-width="1.81" stroke-linejoin="round">2</text>
<line x1="681.9" y1="2608.4" x2="681.9" y2="2625.4" stroke="#000" stroke-width="4.8"/>
<text x="681.9" y="2668.0" font-size="42" text-anchor="middle" textLength="22.5" lengthAdjust="spacingAndGlyphs" fill="#000" stroke="#000" stroke-width="1.81" stroke-linejoin="round">4</text>
<line x1="785.8" y1="2608.4" x2="785.8" y2="2625.4" stroke="#000" stroke-width="4.8"/>
<text x="785.8" y="2668.0" font-size="42" text-anchor="middle" textLength="22.5" lengthAdjust="spacingAndGlyphs" fill="#000" stroke="#000" stroke-width="1.81" stroke-linejoin="round">6</text>
<line x1="889.7" y1="2608.4" x2="889.7" y2="2625.4" stroke="#000" stroke-width="4.8"/>
<text x="889.7" y="2668.0" font-size="42" text-anchor="middle" textLength="45.0" lengthAdjust="spacingAndGlyphs" fill="#000" stroke="#000" stroke-width="1.81" stroke-linejoin="round">12</text>
<line x1="993.6" y1="2608.4" x2="993.6" y2="2625.4" stroke="#000" stroke-width="4.8"/>
<text x="993.6" y="2668.0" font-size="42" text-anchor="middle" textLength="45.0" lengthAdjust="spacingAndGlyphs" fill="#000" stroke="#000" stroke-width="1.81" stroke-linejoin="round">24</text>
<line x1="1097.5" y1="2608.4" x2="1097.5" y2="2625.4" stroke="#000" stroke-width="4.8"/>
<text x="1097.5" y="2668.0" font-size="42" text-anchor="middle" textLength="74.3" lengthAdjust="spacingAndGlyphs" fill="#000" stroke="#000" stroke-width="1.81" stroke-linejoin="round">C24</text>
<text x="734.3" y="2740.0" font-size="46" text-anchor="middle" textLength="178.0" lengthAdjust="spacingAndGlyphs" fill="#000" stroke="#000" stroke-width="1.98" stroke-linejoin="round">Time (h)</text>
<text transform="translate(221.0 2331.8) rotate(-90)" font-size="48" text-anchor="middle" textLength="302.0" lengthAdjust="spacingAndGlyphs" fill="#000" stroke="#000" stroke-width="2.06" stroke-linejoin="round">c-Fos/GAPDH</text>
<rect x="347.3" y="2050.3" width="59.9" height="29.4" fill="#fff" stroke="#000" stroke-width="4.6" rx="2.5"/>
<rect x="345.0" y="2111.8" width="64.5" height="34.0" fill="#000" rx="3.0"/>
<text x="438.0" y="2078.3" font-size="48" textLength="118.5" lengthAdjust="spacingAndGlyphs" fill="#000">PTEC</text>
<text x="438.0" y="2143.3" font-size="48" textLength="154.0" lengthAdjust="spacingAndGlyphs" fill="#000">HUVEC</text>
<text x="909.8" y="2216.0" font-size="29" text-anchor="middle" textLength="16.2" lengthAdjust="spacingAndGlyphs" fill="#000" stroke="#000" stroke-width="1.16" stroke-linejoin="round">#</text>
<text x="1015.3" y="2175.0" font-size="29" text-anchor="middle" textLength="16.2" lengthAdjust="spacingAndGlyphs" fill="#000" stroke="#000" stroke-width="1.16" stroke-linejoin="round">#</text>
</g>
<g>
<line x1="1467.1" y1="2470.2" x2="2291.3" y2="2470.2" stroke="#000" stroke-width="5.2" stroke-dasharray="5 11.75"/>
<rect x="1476.1" y="2470.9" width="25.8" height="137.5" fill="#fff" stroke="#000" stroke-width="5.2"/>
<rect x="1513.0" y="2468.3" width="31.0" height="140.1" fill="#000"/>
<line x1="1592.8" y1="2367.0" x2="1592.8" y2="2391.9" stroke="#000" stroke-width="5.0"/>
<line x1="1584.8" y1="2369.4" x2="1600.7" y2="2369.4" stroke="#000" stroke-width="6.0"/>
<rect x="1579.8" y="2392.5" width="25.8" height="215.9" fill="#fff" stroke="#000" stroke-width="5.2"/>
<line x1="1632.2" y1="2461.5" x2="1632.2" y2="2471.4" stroke="#000" stroke-width="5.0"/>
<line x1="1624.3" y1="2463.9" x2="1640.2" y2="2463.9" stroke="#000" stroke-width="6.0"/>
<rect x="1616.8" y="2469.4" width="31.0" height="139.0" fill="#000"/>
<line x1="1696.5" y1="2469.2" x2="1696.5" y2="2488.6" stroke="#000" stroke-width="5.0"/>
<line x1="1688.6" y1="2471.6" x2="1704.4" y2="2471.6" stroke="#000" stroke-width="6.0"/>
<rect x="1683.6" y="2489.2" width="25.8" height="119.2" fill="#fff" stroke="#000" stroke-width="5.2"/>
<line x1="1736.0" y1="2409.0" x2="1736.0" y2="2421.3" stroke="#000" stroke-width="5.0"/>
<line x1="1728.1" y1="2411.4" x2="1743.9" y2="2411.4" stroke="#000" stroke-width="6.0"/>
<rect x="1720.5" y="2419.3" width="31.0" height="189.1" fill="#000"/>
<line x1="1800.2" y1="2429.0" x2="1800.2" y2="2456.9" stroke="#000" stroke-width="5.0"/>
<line x1="1792.3" y1="2431.4" x2="1808.2" y2="2431.4" stroke="#000" stroke-width="6.0"/>
<rect x="1787.3" y="2457.5" width="25.8" height="150.9" fill="#fff" stroke="#000" stroke-width="5.2"/>
<line x1="1839.8" y1="2540.0" x2="1839.8" y2="2552.5" stroke="#000" stroke-width="5.0"/>
<line x1="1831.8" y1="2542.4" x2="1847.7" y2="2542.4" stroke="#000" stroke-width="6.0"/>
<rect x="1824.2" y="2550.5" width="31.0" height="57.9" fill="#000"/>
<line x1="1904.0" y1="2362.9" x2="1904.0" y2="2405.3" stroke="#000" stroke-width="5.0"/>
<line x1="1896.1" y1="2365.3" x2="1911.9" y2="2365.3" stroke="#000" stroke-width="6.0"/>
<rect x="1891.1" y="2405.9" width="25.8" height="202.5" fill="#fff" stroke="#000" stroke-width="5.2"/>
<line x1="1943.5" y1="2461.5" x2="1943.5" y2="2481.0" stroke="#000" stroke-width="5.0"/>
<line x1="1935.6" y1="2463.9" x2="1951.4" y2="2463.9" stroke="#000" stroke-width="6.0"/>
<rect x="1928.0" y="2479.0" width="31.0" height="129.4" fill="#000"/>
<line x1="2007.8" y1="2336.0" x2="2007.8" y2="2359.4" stroke="#000" stroke-width="5.0"/>
<line x1="1999.8" y1="2338.4" x2="2015.7" y2="2338.4" stroke="#000" stroke-width="6.0"/>
<rect x="1994.8" y="2360.0" width="25.8" height="248.4" fill="#fff" stroke="#000" stroke-width="5.2"/>
<line x1="2047.2" y1="2563.6" x2="2047.2" y2="2573.5" stroke="#000" stroke-width="5.0"/>
<line x1="2039.3" y1="2566.0" x2="2055.2" y2="2566.0" stroke="#000" stroke-width="6.0"/>
<rect x="2031.8" y="2571.5" width="31.0" height="36.9" fill="#000"/>
<line x1="2111.5" y1="2337.2" x2="2111.5" y2="2369.0" stroke="#000" stroke-width="5.0"/>
<line x1="2103.6" y1="2339.6" x2="2119.4" y2="2339.6" stroke="#000" stroke-width="6.0"/>
<rect x="2098.6" y="2369.6" width="25.8" height="238.8" fill="#fff" stroke="#000" stroke-width="5.2"/>
<line x1="2151.0" y1="2496.0" x2="2151.0" y2="2521.9" stroke="#000" stroke-width="5.0"/>
<line x1="2143.1" y1="2498.4" x2="2158.9" y2="2498.4" stroke="#000" stroke-width="6.0"/>
<rect x="2135.5" y="2519.9" width="31.0" height="88.5" fill="#000"/>
<line x1="2215.2" y1="2332.7" x2="2215.2" y2="2374.7" stroke="#000" stroke-width="5.0"/>
<line x1="2207.3" y1="2335.1" x2="2223.2" y2="2335.1" stroke="#000" stroke-width="6.0"/>
<rect x="2202.3" y="2375.3" width="25.8" height="233.1" fill="#fff" stroke="#000" stroke-width="5.2"/>
<line x1="2254.8" y1="2538.0" x2="2254.8" y2="2549.8" stroke="#000" stroke-width="5.0"/>
<line x1="2246.8" y1="2540.4" x2="2262.7" y2="2540.4" stroke="#000" stroke-width="6.0"/>
<rect x="2239.2" y="2547.8" width="31.0" height="60.6" fill="#000"/>
<line x1="1456.6" y1="2052.0" x2="1456.6" y2="2610.8" stroke="#000" stroke-width="4.8"/>
<line x1="1440.6" y1="2608.4" x2="2289.3" y2="2608.4" stroke="#000" stroke-width="6.0"/>
<line x1="1440.6" y1="2539.2" x2="1456.6" y2="2539.2" stroke="#000" stroke-width="4.4"/>
<line x1="1440.6" y1="2469.9" x2="1456.6" y2="2469.9" stroke="#000" stroke-width="4.4"/>
<line x1="1440.6" y1="2400.7" x2="1456.6" y2="2400.7" stroke="#000" stroke-width="4.4"/>
<line x1="1440.6" y1="2331.4" x2="1456.6" y2="2331.4" stroke="#000" stroke-width="4.4"/>
<line x1="1440.6" y1="2262.2" x2="1456.6" y2="2262.2" stroke="#000" stroke-width="4.4"/>
<line x1="1440.6" y1="2192.9" x2="1456.6" y2="2192.9" stroke="#000" stroke-width="4.4"/>
<line x1="1440.6" y1="2123.7" x2="1456.6" y2="2123.7" stroke="#000" stroke-width="4.4"/>
<line x1="1440.6" y1="2054.4" x2="1456.6" y2="2054.4" stroke="#000" stroke-width="4.4"/>
<text x="1432.6" y="2622.2" font-size="41" text-anchor="end" textLength="55.6" lengthAdjust="spacingAndGlyphs" fill="#000" stroke="#000" stroke-width="1.76" stroke-linejoin="round">0.0</text>
<text x="1432.6" y="2553.0" font-size="41" text-anchor="end" textLength="55.6" lengthAdjust="spacingAndGlyphs" fill="#000" stroke="#000" stroke-width="1.76" stroke-linejoin="round">0.5</text>
<text x="1432.6" y="2483.7" font-size="41" text-anchor="end" textLength="55.6" lengthAdjust="spacingAndGlyphs" fill="#000" stroke="#000" stroke-width="1.76" stroke-linejoin="round">1.0</text>
<text x="1432.6" y="2414.5" font-size="41" text-anchor="end" textLength="55.6" lengthAdjust="spacingAndGlyphs" fill="#000" stroke="#000" stroke-width="1.76" stroke-linejoin="round">1.5</text>
<text x="1432.6" y="2345.2" font-size="41" text-anchor="end" textLength="55.6" lengthAdjust="spacingAndGlyphs" fill="#000" stroke="#000" stroke-width="1.76" stroke-linejoin="round">2.0</text>
<text x="1432.6" y="2276.0" font-size="41" text-anchor="end" textLength="55.6" lengthAdjust="spacingAndGlyphs" fill="#000" stroke="#000" stroke-width="1.76" stroke-linejoin="round">2.5</text>
<text x="1432.6" y="2206.7" font-size="41" text-anchor="end" textLength="55.6" lengthAdjust="spacingAndGlyphs" fill="#000" stroke="#000" stroke-width="1.76" stroke-linejoin="round">3.0</text>
<text x="1432.6" y="2137.5" font-size="41" text-anchor="end" textLength="55.6" lengthAdjust="spacingAndGlyphs" fill="#000" stroke="#000" stroke-width="1.76" stroke-linejoin="round">3.5</text>
<text x="1432.6" y="2068.2" font-size="41" text-anchor="end" textLength="55.6" lengthAdjust="spacingAndGlyphs" fill="#000" stroke="#000" stroke-width="1.76" stroke-linejoin="round">4.0</text>
<line x1="1507.5" y1="2608.4" x2="1507.5" y2="2625.4" stroke="#000" stroke-width="4.8"/>
<text x="1507.5" y="2668.0" font-size="42" text-anchor="middle" textLength="51.8" lengthAdjust="spacingAndGlyphs" fill="#000" stroke="#000" stroke-width="1.81" stroke-linejoin="round">C1</text>
<line x1="1611.2" y1="2608.4" x2="1611.2" y2="2625.4" stroke="#000" stroke-width="4.8"/>
<text x="1611.2" y="2668.0" font-size="42" text-anchor="middle" textLength="22.5" lengthAdjust="spacingAndGlyphs" fill="#000" stroke="#000" stroke-width="1.81" stroke-linejoin="round">1</text>
<line x1="1715.0" y1="2608.4" x2="1715.0" y2="2625.4" stroke="#000" stroke-width="4.8"/>
<text x="1715.0" y="2668.0" font-size="42" text-anchor="middle" textLength="22.5" lengthAdjust="spacingAndGlyphs" fill="#000" stroke="#000" stroke-width="1.81" stroke-linejoin="round">2</text>
<line x1="1818.8" y1="2608.4" x2="1818.8" y2="2625.4" stroke="#000" stroke-width="4.8"/>
<text x="1818.8" y="2668.0" font-size="42" text-anchor="middle" textLength="22.5" lengthAdjust="spacingAndGlyphs" fill="#000" stroke="#000" stroke-width="1.81" stroke-linejoin="round">4</text>
<line x1="1922.5" y1="2608.4" x2="1922.5" y2="2625.4" stroke="#000" stroke-width="4.8"/>
<text x="1922.5" y="2668.0" font-size="42" text-anchor="middle" textLength="22.5" lengthAdjust="spacingAndGlyphs" fill="#000" stroke="#000" stroke-width="1.81" stroke-linejoin="round">6</text>
<line x1="2026.2" y1="2608.4" x2="2026.2" y2="2625.4" stroke="#000" stroke-width="4.8"/>
<text x="2026.2" y="2668.0" font-size="42" text-anchor="middle" textLength="45.0" lengthAdjust="spacingAndGlyphs" fill="#000" stroke="#000" stroke-width="1.81" stroke-linejoin="round">12</text>
<line x1="2130.0" y1="2608.4" x2="2130.0" y2="2625.4" stroke="#000" stroke-width="4.8"/>
<text x="2130.0" y="2668.0" font-size="42" text-anchor="middle" textLength="45.0" lengthAdjust="spacingAndGlyphs" fill="#000" stroke="#000" stroke-width="1.81" stroke-linejoin="round">24</text>
<line x1="2233.8" y1="2608.4" x2="2233.8" y2="2625.4" stroke="#000" stroke-width="4.8"/>
<text x="2233.8" y="2668.0" font-size="42" text-anchor="middle" textLength="74.3" lengthAdjust="spacingAndGlyphs" fill="#000" stroke="#000" stroke-width="1.81" stroke-linejoin="round">C24</text>
<text x="1873.2" y="2740.0" font-size="46" text-anchor="middle" textLength="178.0" lengthAdjust="spacingAndGlyphs" fill="#000" stroke="#000" stroke-width="1.98" stroke-linejoin="round">Time (h)</text>
<text transform="translate(1356.0 2329.5) rotate(-90)" font-size="48" text-anchor="middle" textLength="304.0" lengthAdjust="spacingAndGlyphs" fill="#000" stroke="#000" stroke-width="2.06" stroke-linejoin="round">p-c-Fos/c-Fos</text>
<rect x="1491.0" y="2052.5" width="59.4" height="29.4" fill="#fff" stroke="#000" stroke-width="4.6" rx="2.5"/>
<rect x="1488.7" y="2111.0" width="64.0" height="34.0" fill="#000" rx="3.0"/>
<text x="1583.5" y="2082.4" font-size="48" textLength="117.0" lengthAdjust="spacingAndGlyphs" fill="#000">PTEC</text>
<text x="1583.5" y="2142.9" font-size="48" textLength="152.5" lengthAdjust="spacingAndGlyphs" fill="#000">HUVEC</text>
<text x="1592.0" y="2370.0" font-size="40" font-weight="700" text-anchor="middle" textLength="19.1" lengthAdjust="spacingAndGlyphs" fill="#000">*</text>
<text x="1737.3" y="2397.5" font-size="29" text-anchor="middle" textLength="16.2" lengthAdjust="spacingAndGlyphs" fill="#000" stroke="#000" stroke-width="1.16" stroke-linejoin="round">#</text>
<text x="1840.0" y="2529.5" font-size="29.5" text-anchor="middle" textLength="15.5" lengthAdjust="spacingAndGlyphs" fill="#000" stroke="#000" stroke-width="1.18" stroke-linejoin="round">$</text>
<text x="1903.8" y="2365.0" font-size="40" font-weight="700" text-anchor="middle" textLength="19.1" lengthAdjust="spacingAndGlyphs" fill="#000">*</text>
<text x="2006.3" y="2323.0" font-size="29.5" text-anchor="middle" textLength="15.5" lengthAdjust="spacingAndGlyphs" fill="#000" stroke="#000" stroke-width="1.18" stroke-linejoin="round">$</text>
<text x="2045.3" y="2551.3" font-size="29.5" text-anchor="middle" textLength="15.5" lengthAdjust="spacingAndGlyphs" fill="#000" stroke="#000" stroke-width="1.18" stroke-linejoin="round">$</text>
<text x="2111.5" y="2323.0" font-size="29" text-anchor="middle" textLength="16.2" lengthAdjust="spacingAndGlyphs" fill="#000" stroke="#000" stroke-width="1.16" stroke-linejoin="round">#</text>
<text x="2150.5" y="2460.7" font-size="29.5" text-anchor="middle" textLength="15.5" lengthAdjust="spacingAndGlyphs" fill="#000" stroke="#000" stroke-width="1.18" stroke-linejoin="round">$</text>
<text x="2216.6" y="2318.5" font-size="29" text-anchor="middle" textLength="16.2" lengthAdjust="spacingAndGlyphs" fill="#000" stroke="#000" stroke-width="1.16" stroke-linejoin="round">#</text>
<text x="2253.0" y="2525.7" font-size="29.5" text-anchor="middle" textLength="15.5" lengthAdjust="spacingAndGlyphs" fill="#000" stroke="#000" stroke-width="1.18" stroke-linejoin="round">$</text>
</g>
<g>
<line x1="331.7" y1="3285.7" x2="1156.0" y2="3285.7" stroke="#000" stroke-width="5.2" stroke-dasharray="5 11.75"/>
<rect x="339.3" y="3286.4" width="25.8" height="92.6" fill="#fff" stroke="#000" stroke-width="5.2"/>
<rect x="376.2" y="3283.8" width="31.0" height="95.2" fill="#000"/>
<line x1="456.0" y1="3242.7" x2="456.0" y2="3261.0" stroke="#000" stroke-width="5.0"/>
<line x1="448.1" y1="3245.1" x2="463.9" y2="3245.1" stroke="#000" stroke-width="6.0"/>
<rect x="443.1" y="3261.6" width="25.8" height="117.4" fill="#fff" stroke="#000" stroke-width="5.2"/>
<line x1="495.5" y1="3282.0" x2="495.5" y2="3295.4" stroke="#000" stroke-width="5.0"/>
<line x1="487.6" y1="3284.4" x2="503.4" y2="3284.4" stroke="#000" stroke-width="6.0"/>
<rect x="480.0" y="3293.4" width="31.0" height="85.6" fill="#000"/>
<line x1="559.9" y1="3248.4" x2="559.9" y2="3261.0" stroke="#000" stroke-width="5.0"/>
<line x1="552.0" y1="3250.8" x2="567.8" y2="3250.8" stroke="#000" stroke-width="6.0"/>
<rect x="547.0" y="3261.6" width="25.8" height="117.4" fill="#fff" stroke="#000" stroke-width="5.2"/>
<line x1="599.4" y1="3307.7" x2="599.4" y2="3331.7" stroke="#000" stroke-width="5.0"/>
<line x1="591.5" y1="3310.1" x2="607.3" y2="3310.1" stroke="#000" stroke-width="6.0"/>
<rect x="583.9" y="3329.7" width="31.0" height="49.3" fill="#000"/>
<line x1="663.8" y1="3305.0" x2="663.8" y2="3312.6" stroke="#000" stroke-width="5.0"/>
<line x1="655.9" y1="3307.4" x2="671.6" y2="3307.4" stroke="#000" stroke-width="6.0"/>
<rect x="650.9" y="3313.2" width="25.8" height="65.8" fill="#fff" stroke="#000" stroke-width="5.2"/>
<line x1="703.2" y1="3245.7" x2="703.2" y2="3251.4" stroke="#000" stroke-width="5.0"/>
<line x1="695.4" y1="3248.1" x2="711.1" y2="3248.1" stroke="#000" stroke-width="6.0"/>
<rect x="687.8" y="3249.4" width="31.0" height="129.6" fill="#000"/>
<line x1="767.6" y1="3319.0" x2="767.6" y2="3327.9" stroke="#000" stroke-width="5.0"/>
<line x1="759.7" y1="3321.4" x2="775.5" y2="3321.4" stroke="#000" stroke-width="6.0"/>
<rect x="754.7" y="3328.5" width="25.8" height="50.5" fill="#fff" stroke="#000" stroke-width="5.2"/>
<line x1="807.1" y1="3199.8" x2="807.1" y2="3209.3" stroke="#000" stroke-width="5.0"/>
<line x1="799.2" y1="3202.2" x2="815.0" y2="3202.2" stroke="#000" stroke-width="6.0"/>
<rect x="791.6" y="3207.3" width="31.0" height="171.7" fill="#000"/>
<line x1="871.5" y1="3310.7" x2="871.5" y2="3327.9" stroke="#000" stroke-width="5.0"/>
<line x1="863.6" y1="3313.1" x2="879.4" y2="3313.1" stroke="#000" stroke-width="6.0"/>
<rect x="858.6" y="3328.5" width="25.8" height="50.5" fill="#fff" stroke="#000" stroke-width="5.2"/>
<line x1="911.0" y1="3166.2" x2="911.0" y2="3185.3" stroke="#000" stroke-width="5.0"/>
<line x1="903.1" y1="3168.6" x2="918.9" y2="3168.6" stroke="#000" stroke-width="6.0"/>
<rect x="895.5" y="3183.3" width="31.0" height="195.7" fill="#000"/>
<line x1="975.3" y1="3313.4" x2="975.3" y2="3332.9" stroke="#000" stroke-width="5.0"/>
<line x1="967.4" y1="3315.8" x2="983.2" y2="3315.8" stroke="#000" stroke-width="6.0"/>
<rect x="962.4" y="3333.5" width="25.8" height="45.5" fill="#fff" stroke="#000" stroke-width="5.2"/>
<line x1="1014.8" y1="3237.0" x2="1014.8" y2="3268.6" stroke="#000" stroke-width="5.0"/>
<line x1="1006.9" y1="3239.4" x2="1022.7" y2="3239.4" stroke="#000" stroke-width="6.0"/>
<rect x="999.3" y="3266.6" width="31.0" height="112.4" fill="#000"/>
<line x1="1079.1" y1="3291.6" x2="1079.1" y2="3312.6" stroke="#000" stroke-width="5.0"/>
<line x1="1071.2" y1="3294.0" x2="1087.0" y2="3294.0" stroke="#000" stroke-width="6.0"/>
<rect x="1066.2" y="3313.2" width="25.8" height="65.8" fill="#fff" stroke="#000" stroke-width="5.2"/>
<line x1="1118.6" y1="3218.6" x2="1118.6" y2="3245.7" stroke="#000" stroke-width="5.0"/>
<line x1="1110.7" y1="3221.0" x2="1126.5" y2="3221.0" stroke="#000" stroke-width="6.0"/>
<rect x="1103.1" y="3243.7" width="31.0" height="135.3" fill="#000"/>
<line x1="321.2" y1="2819.8" x2="321.2" y2="3381.4" stroke="#000" stroke-width="4.8"/>
<line x1="305.2" y1="3379.0" x2="1154.0" y2="3379.0" stroke="#000" stroke-width="6.0"/>
<line x1="305.2" y1="3332.6" x2="321.2" y2="3332.6" stroke="#000" stroke-width="4.4"/>
<line x1="305.2" y1="3286.2" x2="321.2" y2="3286.2" stroke="#000" stroke-width="4.4"/>
<line x1="305.2" y1="3239.8" x2="321.2" y2="3239.8" stroke="#000" stroke-width="4.4"/>
<line x1="305.2" y1="3193.4" x2="321.2" y2="3193.4" stroke="#000" stroke-width="4.4"/>
<line x1="305.2" y1="3147.0" x2="321.2" y2="3147.0" stroke="#000" stroke-width="4.4"/>
<line x1="305.2" y1="3100.6" x2="321.2" y2="3100.6" stroke="#000" stroke-width="4.4"/>
<line x1="305.2" y1="3054.2" x2="321.2" y2="3054.2" stroke="#000" stroke-width="4.4"/>
<line x1="305.2" y1="3007.8" x2="321.2" y2="3007.8" stroke="#000" stroke-width="4.4"/>
<line x1="305.2" y1="2961.4" x2="321.2" y2="2961.4" stroke="#000" stroke-width="4.4"/>
<line x1="305.2" y1="2915.0" x2="321.2" y2="2915.0" stroke="#000" stroke-width="4.4"/>
<line x1="305.2" y1="2868.6" x2="321.2" y2="2868.6" stroke="#000" stroke-width="4.4"/>
<line x1="305.2" y1="2822.2" x2="321.2" y2="2822.2" stroke="#000" stroke-width="4.4"/>
<text x="297.2" y="3392.8" font-size="41" text-anchor="end" textLength="55.6" lengthAdjust="spacingAndGlyphs" fill="#000" stroke="#000" stroke-width="1.76" stroke-linejoin="round">0.0</text>
<text x="297.2" y="3346.4" font-size="41" text-anchor="end" textLength="55.6" lengthAdjust="spacingAndGlyphs" fill="#000" stroke="#000" stroke-width="1.76" stroke-linejoin="round">0.5</text>
<text x="297.2" y="3300.0" font-size="41" text-anchor="end" textLength="55.6" lengthAdjust="spacingAndGlyphs" fill="#000" stroke="#000" stroke-width="1.76" stroke-linejoin="round">1.0</text>
<text x="297.2" y="3253.6" font-size="41" text-anchor="end" textLength="55.6" lengthAdjust="spacingAndGlyphs" fill="#000" stroke="#000" stroke-width="1.76" stroke-linejoin="round">1.5</text>
<text x="297.2" y="3207.2" font-size="41" text-anchor="end" textLength="55.6" lengthAdjust="spacingAndGlyphs" fill="#000" stroke="#000" stroke-width="1.76" stroke-linejoin="round">2.0</text>
<text x="297.2" y="3160.8" font-size="41" text-anchor="end" textLength="55.6" lengthAdjust="spacingAndGlyphs" fill="#000" stroke="#000" stroke-width="1.76" stroke-linejoin="round">2.5</text>
<text x="297.2" y="3114.4" font-size="41" text-anchor="end" textLength="55.6" lengthAdjust="spacingAndGlyphs" fill="#000" stroke="#000" stroke-width="1.76" stroke-linejoin="round">3.0</text>
<text x="297.2" y="3068.0" font-size="41" text-anchor="end" textLength="55.6" lengthAdjust="spacingAndGlyphs" fill="#000" stroke="#000" stroke-width="1.76" stroke-linejoin="round">3.5</text>
<text x="297.2" y="3021.6" font-size="41" text-anchor="end" textLength="55.6" lengthAdjust="spacingAndGlyphs" fill="#000" stroke="#000" stroke-width="1.76" stroke-linejoin="round">4.0</text>
<text x="297.2" y="2975.2" font-size="41" text-anchor="end" textLength="55.6" lengthAdjust="spacingAndGlyphs" fill="#000" stroke="#000" stroke-width="1.76" stroke-linejoin="round">4.5</text>
<text x="297.2" y="2928.8" font-size="41" text-anchor="end" textLength="55.6" lengthAdjust="spacingAndGlyphs" fill="#000" stroke="#000" stroke-width="1.76" stroke-linejoin="round">5.0</text>
<text x="297.2" y="2882.4" font-size="41" text-anchor="end" textLength="55.6" lengthAdjust="spacingAndGlyphs" fill="#000" stroke="#000" stroke-width="1.76" stroke-linejoin="round">5.5</text>
<text x="297.2" y="2836.0" font-size="41" text-anchor="end" textLength="55.6" lengthAdjust="spacingAndGlyphs" fill="#000" stroke="#000" stroke-width="1.76" stroke-linejoin="round">6.0</text>
<line x1="370.7" y1="3379.0" x2="370.7" y2="3396.0" stroke="#000" stroke-width="4.8"/>
<text x="370.7" y="3439.0" font-size="42" text-anchor="middle" textLength="51.8" lengthAdjust="spacingAndGlyphs" fill="#000" stroke="#000" stroke-width="1.81" stroke-linejoin="round">C1</text>
<line x1="474.5" y1="3379.0" x2="474.5" y2="3396.0" stroke="#000" stroke-width="4.8"/>
<text x="474.5" y="3439.0" font-size="42" text-anchor="middle" textLength="22.5" lengthAdjust="spacingAndGlyphs" fill="#000" stroke="#000" stroke-width="1.81" stroke-linejoin="round">1</text>
<line x1="578.4" y1="3379.0" x2="578.4" y2="3396.0" stroke="#000" stroke-width="4.8"/>
<text x="578.4" y="3439.0" font-size="42" text-anchor="middle" textLength="22.5" lengthAdjust="spacingAndGlyphs" fill="#000" stroke="#000" stroke-width="1.81" stroke-linejoin="round">2</text>
<line x1="682.2" y1="3379.0" x2="682.2" y2="3396.0" stroke="#000" stroke-width="4.8"/>
<text x="682.2" y="3439.0" font-size="42" text-anchor="middle" textLength="22.5" lengthAdjust="spacingAndGlyphs" fill="#000" stroke="#000" stroke-width="1.81" stroke-linejoin="round">4</text>
<line x1="786.1" y1="3379.0" x2="786.1" y2="3396.0" stroke="#000" stroke-width="4.8"/>
<text x="786.1" y="3439.0" font-size="42" text-anchor="middle" textLength="22.5" lengthAdjust="spacingAndGlyphs" fill="#000" stroke="#000" stroke-width="1.81" stroke-linejoin="round">6</text>
<line x1="890.0" y1="3379.0" x2="890.0" y2="3396.0" stroke="#000" stroke-width="4.8"/>
<text x="890.0" y="3439.0" font-size="42" text-anchor="middle" textLength="45.0" lengthAdjust="spacingAndGlyphs" fill="#000" stroke="#000" stroke-width="1.81" stroke-linejoin="round">12</text>
<line x1="993.8" y1="3379.0" x2="993.8" y2="3396.0" stroke="#000" stroke-width="4.8"/>
<text x="993.8" y="3439.0" font-size="42" text-anchor="middle" textLength="45.0" lengthAdjust="spacingAndGlyphs" fill="#000" stroke="#000" stroke-width="1.81" stroke-linejoin="round">24</text>
<line x1="1097.6" y1="3379.0" x2="1097.6" y2="3396.0" stroke="#000" stroke-width="4.8"/>
<text x="1097.6" y="3439.0" font-size="42" text-anchor="middle" textLength="74.3" lengthAdjust="spacingAndGlyphs" fill="#000" stroke="#000" stroke-width="1.81" stroke-linejoin="round">C24</text>
<text x="738.0" y="3507.8" font-size="46" text-anchor="middle" textLength="178.0" lengthAdjust="spacingAndGlyphs" fill="#000" stroke="#000" stroke-width="1.98" stroke-linejoin="round">Time (h)</text>
<text transform="translate(221.5 3100.0) rotate(-90)" font-size="48" text-anchor="middle" textLength="298.0" lengthAdjust="spacingAndGlyphs" fill="#000" stroke="#000" stroke-width="2.06" stroke-linejoin="round">c-Jun/GAPDH</text>
<rect x="897.8" y="2823.8" width="61.4" height="28.9" fill="#fff" stroke="#000" stroke-width="4.6" rx="2.5"/>
<rect x="895.5" y="2888.5" width="66.0" height="33.5" fill="#000" rx="3.0"/>
<text x="989.5" y="2853.2" font-size="48" textLength="117.0" lengthAdjust="spacingAndGlyphs" fill="#000">PTEC</text>
<text x="989.5" y="2920.0" font-size="48" textLength="153.0" lengthAdjust="spacingAndGlyphs" fill="#000">HUVEC</text>
<text x="600.2" y="3293.0" font-size="40" font-weight="700" text-anchor="middle" textLength="19.1" lengthAdjust="spacingAndGlyphs" fill="#000">*</text>
<text x="770.5" y="3314.4" font-size="29" text-anchor="middle" textLength="16.2" lengthAdjust="spacingAndGlyphs" fill="#000" stroke="#000" stroke-width="1.16" stroke-linejoin="round">#</text>
<text x="806.0" y="3189.0" font-size="29.5" text-anchor="middle" textLength="15.5" lengthAdjust="spacingAndGlyphs" fill="#000" stroke="#000" stroke-width="1.18" stroke-linejoin="round">$</text>
<text x="873.0" y="3276.0" font-size="29" text-anchor="middle" textLength="16.2" lengthAdjust="spacingAndGlyphs" fill="#000" stroke="#000" stroke-width="1.16" stroke-linejoin="round">#</text>
<text x="909.3" y="3154.6" font-size="29.5" text-anchor="middle" textLength="15.5" lengthAdjust="spacingAndGlyphs" fill="#000" stroke="#000" stroke-width="1.18" stroke-linejoin="round">$</text>
<text x="975.0" y="3276.0" font-size="29" text-anchor="middle" textLength="16.2" lengthAdjust="spacingAndGlyphs" fill="#000" stroke="#000" stroke-width="1.16" stroke-linejoin="round">#</text>
</g>
<g>
<line x1="1466.7" y1="3284.6" x2="2291.3" y2="3284.6" stroke="#000" stroke-width="5.2" stroke-dasharray="5 11.75"/>
<rect x="1476.0" y="3285.3" width="25.8" height="93.0" fill="#fff" stroke="#000" stroke-width="5.2"/>
<rect x="1512.9" y="3282.7" width="31.0" height="95.6" fill="#000"/>
<line x1="1592.8" y1="3294.3" x2="1592.8" y2="3308.8" stroke="#000" stroke-width="5.0"/>
<line x1="1584.8" y1="3296.7" x2="1600.7" y2="3296.7" stroke="#000" stroke-width="6.0"/>
<rect x="1579.8" y="3309.4" width="25.8" height="68.9" fill="#fff" stroke="#000" stroke-width="5.2"/>
<line x1="1632.2" y1="3192.2" x2="1632.2" y2="3201.7" stroke="#000" stroke-width="5.0"/>
<line x1="1624.3" y1="3194.6" x2="1640.2" y2="3194.6" stroke="#000" stroke-width="6.0"/>
<rect x="1616.8" y="3199.7" width="31.0" height="178.6" fill="#000"/>
<line x1="1696.6" y1="3293.5" x2="1696.6" y2="3303.0" stroke="#000" stroke-width="5.0"/>
<line x1="1688.7" y1="3295.9" x2="1704.5" y2="3295.9" stroke="#000" stroke-width="6.0"/>
<rect x="1683.7" y="3303.6" width="25.8" height="74.7" fill="#fff" stroke="#000" stroke-width="5.2"/>
<line x1="1736.1" y1="2900.6" x2="1736.1" y2="3000.0" stroke="#000" stroke-width="5.0"/>
<line x1="1728.2" y1="2903.0" x2="1744.0" y2="2903.0" stroke="#000" stroke-width="6.0"/>
<rect x="1720.6" y="2998.0" width="31.0" height="380.3" fill="#000"/>
<line x1="1800.5" y1="3161.6" x2="1800.5" y2="3184.5" stroke="#000" stroke-width="5.0"/>
<line x1="1792.5" y1="3164.0" x2="1808.4" y2="3164.0" stroke="#000" stroke-width="6.0"/>
<rect x="1787.5" y="3185.1" width="25.8" height="193.2" fill="#fff" stroke="#000" stroke-width="5.2"/>
<line x1="1840.0" y1="3085.9" x2="1840.0" y2="3140.5" stroke="#000" stroke-width="5.0"/>
<line x1="1832.0" y1="3088.3" x2="1847.9" y2="3088.3" stroke="#000" stroke-width="6.0"/>
<rect x="1824.5" y="3138.5" width="31.0" height="239.8" fill="#000"/>
<line x1="1904.3" y1="3096.6" x2="1904.3" y2="3105.0" stroke="#000" stroke-width="5.0"/>
<line x1="1896.4" y1="3099.0" x2="1912.2" y2="3099.0" stroke="#000" stroke-width="6.0"/>
<rect x="1891.4" y="3105.6" width="25.8" height="272.7" fill="#fff" stroke="#000" stroke-width="5.2"/>
<line x1="1943.8" y1="3181.5" x2="1943.8" y2="3207.4" stroke="#000" stroke-width="5.0"/>
<line x1="1935.9" y1="3183.9" x2="1951.7" y2="3183.9" stroke="#000" stroke-width="6.0"/>
<rect x="1928.3" y="3205.4" width="31.0" height="172.9" fill="#000"/>
<line x1="2008.2" y1="3042.9" x2="2008.2" y2="3113.0" stroke="#000" stroke-width="5.0"/>
<line x1="2000.2" y1="3045.3" x2="2016.1" y2="3045.3" stroke="#000" stroke-width="6.0"/>
<rect x="1995.2" y="3113.6" width="25.8" height="264.7" fill="#fff" stroke="#000" stroke-width="5.2"/>
<line x1="2047.7" y1="3300.8" x2="2047.7" y2="3321.4" stroke="#000" stroke-width="5.0"/>
<line x1="2039.8" y1="3303.2" x2="2055.6" y2="3303.2" stroke="#000" stroke-width="6.0"/>
<rect x="2032.2" y="3319.4" width="31.0" height="58.9" fill="#000"/>
<line x1="2112.0" y1="3094.7" x2="2112.0" y2="3165.4" stroke="#000" stroke-width="5.0"/>
<line x1="2104.1" y1="3097.1" x2="2119.9" y2="3097.1" stroke="#000" stroke-width="6.0"/>
<rect x="2099.1" y="3166.0" width="25.8" height="212.3" fill="#fff" stroke="#000" stroke-width="5.2"/>
<line x1="2151.5" y1="3155.9" x2="2151.5" y2="3171.9" stroke="#000" stroke-width="5.0"/>
<line x1="2143.6" y1="3158.3" x2="2159.4" y2="3158.3" stroke="#000" stroke-width="6.0"/>
<rect x="2136.0" y="3169.9" width="31.0" height="208.4" fill="#000"/>
<line x1="2215.8" y1="3319.0" x2="2215.8" y2="3327.9" stroke="#000" stroke-width="5.0"/>
<line x1="2207.9" y1="3321.4" x2="2223.8" y2="3321.4" stroke="#000" stroke-width="6.0"/>
<rect x="2202.9" y="3328.5" width="25.8" height="49.8" fill="#fff" stroke="#000" stroke-width="5.2"/>
<line x1="2255.3" y1="3311.5" x2="2255.3" y2="3333.6" stroke="#000" stroke-width="5.0"/>
<line x1="2247.4" y1="3313.9" x2="2263.2" y2="3313.9" stroke="#000" stroke-width="6.0"/>
<rect x="2239.8" y="3331.6" width="31.0" height="46.7" fill="#000"/>
<line x1="1456.2" y1="2818.5" x2="1456.2" y2="3380.7" stroke="#000" stroke-width="4.8"/>
<line x1="1440.2" y1="3378.3" x2="2289.3" y2="3378.3" stroke="#000" stroke-width="6.0"/>
<line x1="1440.2" y1="3331.9" x2="1456.2" y2="3331.9" stroke="#000" stroke-width="4.4"/>
<line x1="1440.2" y1="3285.4" x2="1456.2" y2="3285.4" stroke="#000" stroke-width="4.4"/>
<line x1="1440.2" y1="3239.0" x2="1456.2" y2="3239.0" stroke="#000" stroke-width="4.4"/>
<line x1="1440.2" y1="3192.5" x2="1456.2" y2="3192.5" stroke="#000" stroke-width="4.4"/>
<line x1="1440.2" y1="3146.1" x2="1456.2" y2="3146.1" stroke="#000" stroke-width="4.4"/>
<line x1="1440.2" y1="3099.6" x2="1456.2" y2="3099.6" stroke="#000" stroke-width="4.4"/>
<line x1="1440.2" y1="3053.2" x2="1456.2" y2="3053.2" stroke="#000" stroke-width="4.4"/>
<line x1="1440.2" y1="3006.7" x2="1456.2" y2="3006.7" stroke="#000" stroke-width="4.4"/>
<line x1="1440.2" y1="2960.2" x2="1456.2" y2="2960.2" stroke="#000" stroke-width="4.4"/>
<line x1="1440.2" y1="2913.8" x2="1456.2" y2="2913.8" stroke="#000" stroke-width="4.4"/>
<line x1="1440.2" y1="2867.4" x2="1456.2" y2="2867.4" stroke="#000" stroke-width="4.4"/>
<line x1="1440.2" y1="2820.9" x2="1456.2" y2="2820.9" stroke="#000" stroke-width="4.4"/>
<text x="1432.2" y="3392.1" font-size="41" text-anchor="end" textLength="55.6" lengthAdjust="spacingAndGlyphs" fill="#000" stroke="#000" stroke-width="1.76" stroke-linejoin="round">0.0</text>
<text x="1432.2" y="3345.7" font-size="41" text-anchor="end" textLength="55.6" lengthAdjust="spacingAndGlyphs" fill="#000" stroke="#000" stroke-width="1.76" stroke-linejoin="round">0.5</text>
<text x="1432.2" y="3299.2" font-size="41" text-anchor="end" textLength="55.6" lengthAdjust="spacingAndGlyphs" fill="#000" stroke="#000" stroke-width="1.76" stroke-linejoin="round">1.0</text>
<text x="1432.2" y="3252.8" font-size="41" text-anchor="end" textLength="55.6" lengthAdjust="spacingAndGlyphs" fill="#000" stroke="#000" stroke-width="1.76" stroke-linejoin="round">1.5</text>
<text x="1432.2" y="3206.3" font-size="41" text-anchor="end" textLength="55.6" lengthAdjust="spacingAndGlyphs" fill="#000" stroke="#000" stroke-width="1.76" stroke-linejoin="round">2.0</text>
<text x="1432.2" y="3159.9" font-size="41" text-anchor="end" textLength="55.6" lengthAdjust="spacingAndGlyphs" fill="#000" stroke="#000" stroke-width="1.76" stroke-linejoin="round">2.5</text>
<text x="1432.2" y="3113.4" font-size="41" text-anchor="end" textLength="55.6" lengthAdjust="spacingAndGlyphs" fill="#000" stroke="#000" stroke-width="1.76" stroke-linejoin="round">3.0</text>
<text x="1432.2" y="3067.0" font-size="41" text-anchor="end" textLength="55.6" lengthAdjust="spacingAndGlyphs" fill="#000" stroke="#000" stroke-width="1.76" stroke-linejoin="round">3.5</text>
<text x="1432.2" y="3020.5" font-size="41" text-anchor="end" textLength="55.6" lengthAdjust="spacingAndGlyphs" fill="#000" stroke="#000" stroke-width="1.76" stroke-linejoin="round">4.0</text>
<text x="1432.2" y="2974.1" font-size="41" text-anchor="end" textLength="55.6" lengthAdjust="spacingAndGlyphs" fill="#000" stroke="#000" stroke-width="1.76" stroke-linejoin="round">4.5</text>
<text x="1432.2" y="2927.6" font-size="41" text-anchor="end" textLength="55.6" lengthAdjust="spacingAndGlyphs" fill="#000" stroke="#000" stroke-width="1.76" stroke-linejoin="round">5.0</text>
<text x="1432.2" y="2881.2" font-size="41" text-anchor="end" textLength="55.6" lengthAdjust="spacingAndGlyphs" fill="#000" stroke="#000" stroke-width="1.76" stroke-linejoin="round">5.5</text>
<text x="1432.2" y="2834.7" font-size="41" text-anchor="end" textLength="55.6" lengthAdjust="spacingAndGlyphs" fill="#000" stroke="#000" stroke-width="1.76" stroke-linejoin="round">6.0</text>
<line x1="1507.4" y1="3378.3" x2="1507.4" y2="3395.3" stroke="#000" stroke-width="4.8"/>
<text x="1507.4" y="3439.0" font-size="42" text-anchor="middle" textLength="51.8" lengthAdjust="spacingAndGlyphs" fill="#000" stroke="#000" stroke-width="1.81" stroke-linejoin="round">C1</text>
<line x1="1611.2" y1="3378.3" x2="1611.2" y2="3395.3" stroke="#000" stroke-width="4.8"/>
<text x="1611.2" y="3439.0" font-size="42" text-anchor="middle" textLength="22.5" lengthAdjust="spacingAndGlyphs" fill="#000" stroke="#000" stroke-width="1.81" stroke-linejoin="round">1</text>
<line x1="1715.1" y1="3378.3" x2="1715.1" y2="3395.3" stroke="#000" stroke-width="4.8"/>
<text x="1715.1" y="3439.0" font-size="42" text-anchor="middle" textLength="22.5" lengthAdjust="spacingAndGlyphs" fill="#000" stroke="#000" stroke-width="1.81" stroke-linejoin="round">2</text>
<line x1="1819.0" y1="3378.3" x2="1819.0" y2="3395.3" stroke="#000" stroke-width="4.8"/>
<text x="1819.0" y="3439.0" font-size="42" text-anchor="middle" textLength="22.5" lengthAdjust="spacingAndGlyphs" fill="#000" stroke="#000" stroke-width="1.81" stroke-linejoin="round">4</text>
<line x1="1922.8" y1="3378.3" x2="1922.8" y2="3395.3" stroke="#000" stroke-width="4.8"/>
<text x="1922.8" y="3439.0" font-size="42" text-anchor="middle" textLength="22.5" lengthAdjust="spacingAndGlyphs" fill="#000" stroke="#000" stroke-width="1.81" stroke-linejoin="round">6</text>
<line x1="2026.7" y1="3378.3" x2="2026.7" y2="3395.3" stroke="#000" stroke-width="4.8"/>
<text x="2026.7" y="3439.0" font-size="42" text-anchor="middle" textLength="45.0" lengthAdjust="spacingAndGlyphs" fill="#000" stroke="#000" stroke-width="1.81" stroke-linejoin="round">12</text>
<line x1="2130.5" y1="3378.3" x2="2130.5" y2="3395.3" stroke="#000" stroke-width="4.8"/>
<text x="2130.5" y="3439.0" font-size="42" text-anchor="middle" textLength="45.0" lengthAdjust="spacingAndGlyphs" fill="#000" stroke="#000" stroke-width="1.81" stroke-linejoin="round">24</text>
<line x1="2234.3" y1="3378.3" x2="2234.3" y2="3395.3" stroke="#000" stroke-width="4.8"/>
<text x="2234.3" y="3439.0" font-size="42" text-anchor="middle" textLength="74.3" lengthAdjust="spacingAndGlyphs" fill="#000" stroke="#000" stroke-width="1.81" stroke-linejoin="round">C24</text>
<text x="1872.3" y="3507.8" font-size="46" text-anchor="middle" textLength="178.0" lengthAdjust="spacingAndGlyphs" fill="#000" stroke="#000" stroke-width="1.98" stroke-linejoin="round">Time (h)</text>
<text transform="translate(1355.2 3096.5) rotate(-90)" font-size="48" text-anchor="middle" textLength="302.0" lengthAdjust="spacingAndGlyphs" fill="#000" stroke="#000" stroke-width="2.06" stroke-linejoin="round">p-c-Jun/c-Jun</text>
<rect x="2033.5" y="2822.3" width="60.0" height="28.9" fill="#fff" stroke="#000" stroke-width="4.6" rx="2.5"/>
<rect x="2031.2" y="2878.5" width="64.6" height="33.5" fill="#000" rx="3.0"/>
<text x="2125.5" y="2852.0" font-size="48" textLength="117.0" lengthAdjust="spacingAndGlyphs" fill="#000">PTEC</text>
<text x="2125.5" y="2910.5" font-size="48" textLength="153.0" lengthAdjust="spacingAndGlyphs" fill="#000">HUVEC</text>
<text x="1735.7" y="2888.0" font-size="29.5" text-anchor="middle" textLength="15.5" lengthAdjust="spacingAndGlyphs" fill="#000" stroke="#000" stroke-width="1.18" stroke-linejoin="round">$</text>
<text x="1800.7" y="3164.0" font-size="40" font-weight="700" text-anchor="middle" textLength="19.1" lengthAdjust="spacingAndGlyphs" fill="#000">*</text>
<text x="1839.6" y="3079.0" font-size="29" text-anchor="middle" textLength="16.2" lengthAdjust="spacingAndGlyphs" fill="#000" stroke="#000" stroke-width="1.16" stroke-linejoin="round">#</text>
<text x="1903.8" y="3078.0" font-size="29.5" text-anchor="middle" textLength="15.5" lengthAdjust="spacingAndGlyphs" fill="#000" stroke="#000" stroke-width="1.18" stroke-linejoin="round">$</text>
<text x="2149.7" y="3159.0" font-size="40" font-weight="700" text-anchor="middle" textLength="19.1" lengthAdjust="spacingAndGlyphs" fill="#000">*</text>
</g>
<defs>
<filter id="b2" x="-20%" y="-150%" width="140%" height="400%"><feGaussianBlur stdDeviation="2.2"/></filter>
<filter id="b3" x="-20%" y="-150%" width="140%" height="400%"><feGaussianBlur stdDeviation="3.2"/></filter>
<filter id="b5" x="-30%" y="-200%" width="160%" height="500%"><feGaussianBlur stdDeviation="5.5"/></filter>
<filter id="b12" x="-100%" y="-200%" width="300%" height="500%"><feGaussianBlur stdDeviation="32"/></filter>
<filter id="grain" x="0" y="0" width="100%" height="100%">
<feTurbulence type="fractalNoise" baseFrequency="0.22" numOctaves="2" seed="7" result="n"/>
<feColorMatrix in="n" type="matrix" values="0 0 0 0 0  0 0 0 0 0  0 0 0 0 0  1.6 0 0 0 -0.62"/>
</filter>
</defs>
<text x="388.0" y="1075.4" font-size="40" font-weight="700" textLength="106.0" lengthAdjust="spacingAndGlyphs" fill="#231f20">PTEC</text>
<text x="566.0" y="1075.4" font-size="40" textLength="317.7" lengthAdjust="spacingAndGlyphs" fill="#231f20">VP1u: 100 µg/mL</text>
<line x1="265.0" y1="1103.0" x2="1100.5" y2="1103.0" stroke="#231f20" stroke-width="4"/>
<text x="117.8" y="1152.7" font-size="34.5" font-weight="700" textLength="142.5" lengthAdjust="spacingAndGlyphs" fill="#231f20">Time (h):</text>
<text x="334.2" y="1152.7" font-size="34.5" font-weight="700" text-anchor="middle" fill="#231f20">C1</text>
<text x="425.2" y="1152.7" font-size="34.5" font-weight="700" text-anchor="middle" fill="#231f20">1</text>
<text x="539.2" y="1152.7" font-size="34.5" font-weight="700" text-anchor="middle" fill="#231f20">2</text>
<text x="644.0" y="1152.7" font-size="34.5" font-weight="700" text-anchor="middle" fill="#231f20">4</text>
<text x="740.7" y="1152.7" font-size="34.5" font-weight="700" text-anchor="middle" fill="#231f20">6</text>
<text x="837.0" y="1152.7" font-size="34.5" font-weight="700" text-anchor="middle" fill="#231f20">12</text>
<text x="941.5" y="1152.7" font-size="34.5" font-weight="700" text-anchor="middle" fill="#231f20">24</text>
<text x="1049.3" y="1152.7" font-size="34.5" font-weight="700" text-anchor="middle" fill="#231f20">24C</text>
<text x="1152.0" y="1119.6" font-size="32" font-weight="700" text-anchor="middle" fill="#231f20">MW</text>
<text x="1152.5" y="1162.0" font-size="32" font-weight="700" text-anchor="middle" textLength="85.0" lengthAdjust="spacingAndGlyphs" fill="#231f20">(kDa)</text>
<text x="241.5" y="1267.4" font-size="32.5" font-weight="700" text-anchor="end" textLength="92.0" lengthAdjust="spacingAndGlyphs" fill="#231f20">c-Fos</text>
<text x="235.0" y="1401.2" font-size="32.5" font-weight="700" text-anchor="end" textLength="122.5" lengthAdjust="spacingAndGlyphs" fill="#231f20">p-c-Fos</text>
<text x="240.7" y="1524.3" font-size="32.5" font-weight="700" text-anchor="end" textLength="91.9" lengthAdjust="spacingAndGlyphs" fill="#231f20">c-Jun</text>
<text x="239.5" y="1652.4" font-size="32.5" font-weight="700" text-anchor="end" textLength="124.4" lengthAdjust="spacingAndGlyphs" fill="#231f20">p-c-Jun</text>
<text x="235.0" y="1790.0" font-size="33.5" font-weight="700" text-anchor="end" textLength="123.7" lengthAdjust="spacingAndGlyphs" fill="#231f20">GAPDH</text>
<line x1="1104.5" y1="1233.7" x2="1127.5" y2="1233.7" stroke="#231f20" stroke-width="4.6"/>
<text x="1135.5" y="1243.7" font-size="31" font-weight="700" textLength="37.0" lengthAdjust="spacingAndGlyphs" fill="#231f20">62</text>
<line x1="1104.5" y1="1267.4" x2="1127.5" y2="1267.4" stroke="#231f20" stroke-width="4.6"/>
<text x="1135.5" y="1277.0" font-size="31" font-weight="700" textLength="37.0" lengthAdjust="spacingAndGlyphs" fill="#231f20">55</text>
<line x1="1104.5" y1="1384.0" x2="1127.5" y2="1384.0" stroke="#231f20" stroke-width="4.6"/>
<text x="1135.5" y="1392.8" font-size="31" font-weight="700" textLength="37.0" lengthAdjust="spacingAndGlyphs" fill="#231f20">55</text>
<line x1="1104.5" y1="1517.8" x2="1127.5" y2="1517.8" stroke="#231f20" stroke-width="4.6"/>
<text x="1135.5" y="1524.3" font-size="31" font-weight="700" textLength="37.0" lengthAdjust="spacingAndGlyphs" fill="#231f20">37</text>
<line x1="1104.5" y1="1663.9" x2="1127.5" y2="1663.9" stroke="#231f20" stroke-width="4.6"/>
<text x="1135.5" y="1673.4" font-size="31" font-weight="700" textLength="37.0" lengthAdjust="spacingAndGlyphs" fill="#231f20">55</text>
<line x1="1104.5" y1="1779.7" x2="1127.5" y2="1779.7" stroke="#231f20" stroke-width="4.6"/>
<text x="1135.5" y="1790.8" font-size="31" font-weight="700" textLength="37.0" lengthAdjust="spacingAndGlyphs" fill="#231f20">37</text>
<clipPath id="cl1"><rect x="260.0" y="1191.7" width="845.5" height="124.8"/></clipPath>
<g clip-path="url(#cl1)">
<rect x="260.0" y="1191.7" width="845.5" height="124.8" fill="#d6d6d6"/>
<rect x="260.0" y="1290.0" width="845.0" height="30.0" fill="#fff" opacity="0.25" filter="url(#b12)"/>
<rect x="287.0" y="1230.5" width="94.0" height="9.0" rx="4.5" fill="#000" opacity="0.77" filter="url(#b3)"/>
<rect x="289.0" y="1254.3" width="90.0" height="13.0" rx="6.5" fill="#000" opacity="0.95" filter="url(#b3)"/>
<rect x="405.0" y="1236.5" width="69.0" height="9.0" rx="4.5" fill="#000" opacity="0.35" filter="url(#b3)"/>
<rect x="407.0" y="1260.5" width="65.0" height="13.0" rx="6.5" fill="#000" opacity="0.85" filter="url(#b3)"/>
<rect x="499.0" y="1230.5" width="80.0" height="9.0" rx="4.5" fill="#000" opacity="0.7" filter="url(#b3)"/>
<rect x="501.0" y="1254.5" width="76.0" height="13.0" rx="6.5" fill="#000" opacity="0.92" filter="url(#b3)"/>
<rect x="606.0" y="1233.0" width="74.0" height="9.0" rx="4.5" fill="#000" opacity="0.588" filter="url(#b3)"/>
<rect x="608.0" y="1258.0" width="70.0" height="13.0" rx="6.5" fill="#000" opacity="0.9" filter="url(#b3)"/>
<rect x="703.0" y="1231.0" width="82.0" height="9.0" rx="4.5" fill="#000" opacity="0.42" filter="url(#b3)"/>
<rect x="705.0" y="1255.5" width="78.0" height="13.0" rx="6.5" fill="#000" opacity="0.88" filter="url(#b3)"/>
<rect x="808.0" y="1231.5" width="73.0" height="9.0" rx="4.5" fill="#000" opacity="0.84" filter="url(#b3)"/>
<rect x="810.0" y="1256.0" width="69.0" height="13.0" rx="6.5" fill="#000" opacity="0.9" filter="url(#b3)"/>
<rect x="904.0" y="1228.0" width="78.0" height="9.0" rx="4.5" fill="#000" opacity="1" filter="url(#b3)"/>
<rect x="906.0" y="1253.5" width="74.0" height="13.0" rx="6.5" fill="#000" opacity="0.92" filter="url(#b3)"/>
<rect x="998.0" y="1222.0" width="93.0" height="9.0" rx="4.5" fill="#000" opacity="1" filter="url(#b3)"/>
<rect x="1000.0" y="1250.0" width="89.0" height="13.0" rx="6.5" fill="#000" opacity="0.95" filter="url(#b3)"/>
<rect x="260.0" y="1191.7" width="845.5" height="124.8" fill="#000" opacity="0.1" filter="url(#grain)"/>
</g>
<rect x="262.3" y="1194.0" width="840.9" height="120.2" fill="none" stroke="#262223" stroke-width="4.6"/>
<clipPath id="cl2"><rect x="260.0" y="1327.4" width="845.5" height="123.6"/></clipPath>
<g clip-path="url(#cl2)">
<rect x="260.0" y="1327.4" width="845.5" height="123.6" fill="#9d9d9d"/>
<rect x="520.0" y="1410.0" width="480.0" height="60.0" fill="#000" opacity="0.3" filter="url(#b12)"/>
<rect x="420.0" y="1320.0" width="580.0" height="80.0" fill="#000" opacity="0.13" filter="url(#b12)"/>
<rect x="260.0" y="1330.0" width="140.0" height="80.0" fill="#fff" opacity="0.16" filter="url(#b12)"/>
<rect x="1040.0" y="1330.0" width="65.0" height="120.0" fill="#fff" opacity="0.06" filter="url(#b12)"/>
<rect x="540.0" y="1354.0" width="60.0" height="16.0" rx="6" fill="#fff" opacity="0.09" filter="url(#b5)"/>
<rect x="660.0" y="1352.0" width="40.0" height="16.0" rx="6" fill="#fff" opacity="0.08" filter="url(#b5)"/>
<rect x="725.0" y="1350.0" width="65.0" height="16.0" rx="6" fill="#fff" opacity="0.08" filter="url(#b5)"/>
<rect x="830.0" y="1350.0" width="60.0" height="16.0" rx="6" fill="#fff" opacity="0.07" filter="url(#b5)"/>
<rect x="300.0" y="1379.0" width="75.0" height="10.0" rx="5.0" fill="#000" opacity="0.12" filter="url(#b5)"/>
<rect x="408.0" y="1390.0" width="70.0" height="10.0" rx="5.0" fill="#000" opacity="0.28" filter="url(#b5)"/>
<rect x="520.0" y="1386.5" width="65.0" height="9.0" rx="4.5" fill="#000" opacity="0.25" filter="url(#b5)"/>
<rect x="610.0" y="1388.0" width="74.0" height="10.0" rx="5.0" fill="#000" opacity="0.34" filter="url(#b5)"/>
<rect x="708.0" y="1383.5" width="80.0" height="10.0" rx="5.0" fill="#000" opacity="0.34" filter="url(#b5)"/>
<rect x="818.0" y="1381.0" width="66.0" height="10.0" rx="5.0" fill="#000" opacity="0.34" filter="url(#b5)"/>
<rect x="908.0" y="1378.5" width="72.0" height="11.0" rx="5.5" fill="#000" opacity="0.32" filter="url(#b5)"/>
<rect x="1010.0" y="1379.0" width="30.0" height="10.0" rx="5.0" fill="#000" opacity="0.14" filter="url(#b5)"/>
<rect x="750.0" y="1383.5" width="40.0" height="9.0" rx="4.5" fill="#000" opacity="0.16" filter="url(#b3)"/>
<rect x="1088.0" y="1377.0" width="14.0" height="14.0" rx="7.0" fill="#000" opacity="0.4" filter="url(#b5)"/>
<rect x="260.0" y="1327.4" width="845.5" height="123.6" fill="#000" opacity="0.16" filter="url(#grain)"/>
</g>
<rect x="262.3" y="1329.7" width="840.9" height="119.0" fill="none" stroke="#262223" stroke-width="4.6"/>
<clipPath id="cl3"><rect x="260.0" y="1459.3" width="845.5" height="124.3"/></clipPath>
<g clip-path="url(#cl3)">
<rect x="260.0" y="1459.3" width="845.5" height="124.3" fill="#e4e4e4"/>
<rect x="318.0" y="1507.0" width="80.0" height="18.0" rx="4" fill="#000" opacity="0.22" filter="url(#b5)"/>
<rect x="316.0" y="1519.5" width="84.0" height="11.0" rx="5.5" fill="#000" opacity="0.72" filter="url(#b3)"/>
<rect x="431.0" y="1510.5" width="54.0" height="18.0" rx="4" fill="#000" opacity="0.26" filter="url(#b5)"/>
<rect x="429.0" y="1522.5" width="58.0" height="12.0" rx="6.0" fill="#000" opacity="0.85" filter="url(#b3)"/>
<rect x="519.0" y="1505.0" width="68.0" height="18.0" rx="4" fill="#000" opacity="0.27" filter="url(#b5)"/>
<rect x="517.0" y="1517.0" width="72.0" height="12.0" rx="6.0" fill="#000" opacity="0.9" filter="url(#b3)"/>
<rect x="622.0" y="1507.0" width="58.0" height="18.0" rx="4" fill="#000" opacity="0.26" filter="url(#b5)"/>
<rect x="620.0" y="1519.0" width="62.0" height="12.0" rx="6.0" fill="#000" opacity="0.88" filter="url(#b3)"/>
<rect x="714.0" y="1505.5" width="65.0" height="18.0" rx="4" fill="#000" opacity="0.17" filter="url(#b5)"/>
<rect x="712.0" y="1518.5" width="69.0" height="10.0" rx="5.0" fill="#000" opacity="0.55" filter="url(#b3)"/>
<rect x="817.0" y="1505.0" width="56.0" height="18.0" rx="4" fill="#000" opacity="0.24" filter="url(#b5)"/>
<rect x="815.0" y="1517.0" width="60.0" height="12.0" rx="6.0" fill="#000" opacity="0.8" filter="url(#b3)"/>
<rect x="909.0" y="1503.5" width="60.0" height="18.0" rx="4" fill="#000" opacity="0.21" filter="url(#b5)"/>
<rect x="907.0" y="1516.0" width="64.0" height="11.0" rx="5.5" fill="#000" opacity="0.7" filter="url(#b3)"/>
<rect x="997.0" y="1502.0" width="79.0" height="18.0" rx="4" fill="#000" opacity="0.13" filter="url(#b5)"/>
<rect x="995.0" y="1515.5" width="83.0" height="9.0" rx="4.5" fill="#000" opacity="0.42" filter="url(#b3)"/>
<rect x="260.0" y="1459.3" width="845.5" height="124.3" fill="#000" opacity="0.07" filter="url(#grain)"/>
</g>
<rect x="262.3" y="1461.6" width="840.9" height="119.7" fill="none" stroke="#262223" stroke-width="4.6"/>
<clipPath id="cl4"><rect x="260.0" y="1590.4" width="845.5" height="124.3"/></clipPath>
<g clip-path="url(#cl4)">
<rect x="260.0" y="1590.4" width="845.5" height="124.3" fill="#a3a3a3"/>
<rect x="600.0" y="1600.0" width="400.0" height="120.0" fill="#000" opacity="0.12" filter="url(#b12)"/>
<rect x="1000.0" y="1600.0" width="105.0" height="60.0" fill="#fff" opacity="0.1" filter="url(#b12)"/>
<rect x="290.0" y="1664.5" width="75.0" height="7.0" rx="3.5" fill="#000" opacity="0.22" filter="url(#b5)"/>
<rect x="398.0" y="1664.0" width="84.0" height="8.0" rx="4.0" fill="#000" opacity="0.3" filter="url(#b5)"/>
<rect x="505.0" y="1664.5" width="70.0" height="7.0" rx="3.5" fill="#000" opacity="0.22" filter="url(#b5)"/>
<rect x="608.0" y="1664.0" width="74.0" height="8.0" rx="4.0" fill="#000" opacity="0.32" filter="url(#b5)"/>
<rect x="708.0" y="1662.5" width="82.0" height="9.0" rx="4.5" fill="#000" opacity="0.4" filter="url(#b5)"/>
<rect x="815.0" y="1659.5" width="70.0" height="9.0" rx="4.5" fill="#000" opacity="0.36" filter="url(#b5)"/>
<rect x="912.0" y="1662.5" width="73.0" height="7.0" rx="3.5" fill="#000" opacity="0.22" filter="url(#b5)"/>
<rect x="1010.0" y="1659.5" width="70.0" height="7.0" rx="3.5" fill="#000" opacity="0.24" filter="url(#b5)"/>
<rect x="640.0" y="1637.0" width="50.0" height="8.0" rx="4.0" fill="#000" opacity="0.12" filter="url(#b5)"/>
<rect x="720.0" y="1638.0" width="70.0" height="8.0" rx="4.0" fill="#000" opacity="0.12" filter="url(#b5)"/>
<rect x="815.0" y="1631.5" width="70.0" height="9.0" rx="4.5" fill="#000" opacity="0.16" filter="url(#b5)"/>
<rect x="260.0" y="1590.4" width="845.5" height="124.3" fill="#000" opacity="0.15" filter="url(#grain)"/>
</g>
<rect x="262.3" y="1592.7" width="840.9" height="119.7" fill="none" stroke="#262223" stroke-width="4.6"/>
<clipPath id="cl5"><rect x="260.0" y="1723.0" width="845.5" height="124.2"/></clipPath>
<g clip-path="url(#cl5)">
<rect x="260.0" y="1723.0" width="845.5" height="124.2" fill="#ececec"/>
<rect x="291.0" y="1773.3" width="86.0" height="23.4" rx="13.0" fill="#000" opacity="0.18" filter="url(#b5)"/>
<rect x="293.0" y="1778.5" width="82.0" height="13.0" rx="6.5" fill="#000" opacity="1" filter="url(#b2)"/>
<rect x="392.0" y="1771.4" width="90.0" height="25.2" rx="14.0" fill="#000" opacity="0.18" filter="url(#b5)"/>
<rect x="394.0" y="1777.0" width="86.0" height="14.0" rx="7.0" fill="#000" opacity="1" filter="url(#b2)"/>
<rect x="503.0" y="1772.3" width="80.0" height="23.4" rx="13.0" fill="#000" opacity="0.18" filter="url(#b5)"/>
<rect x="505.0" y="1777.5" width="76.0" height="13.0" rx="6.5" fill="#000" opacity="1" filter="url(#b2)"/>
<rect x="602.0" y="1768.5" width="84.0" height="27.0" rx="15.0" fill="#000" opacity="0.18" filter="url(#b5)"/>
<rect x="604.0" y="1774.5" width="80.0" height="15.0" rx="7.5" fill="#000" opacity="1" filter="url(#b2)"/>
<rect x="697.0" y="1771.4" width="100.0" height="25.2" rx="14.0" fill="#000" opacity="0.18" filter="url(#b5)"/>
<rect x="699.0" y="1777.0" width="96.0" height="14.0" rx="7.0" fill="#000" opacity="1" filter="url(#b2)"/>
<rect x="810.0" y="1769.5" width="79.0" height="27.0" rx="15.0" fill="#000" opacity="0.18" filter="url(#b5)"/>
<rect x="812.0" y="1775.5" width="75.0" height="15.0" rx="7.5" fill="#000" opacity="1" filter="url(#b2)"/>
<rect x="902.0" y="1768.5" width="94.0" height="27.0" rx="15.0" fill="#000" opacity="0.18" filter="url(#b5)"/>
<rect x="904.0" y="1774.5" width="90.0" height="15.0" rx="7.5" fill="#000" opacity="1" filter="url(#b2)"/>
<rect x="1017.0" y="1759.9" width="77.0" height="34.2" rx="19.0" fill="#000" opacity="0.18" filter="url(#b5)"/>
<rect x="1019.0" y="1767.5" width="73.0" height="19.0" rx="9.5" fill="#000" opacity="1" filter="url(#b2)"/>
<rect x="260.0" y="1723.0" width="845.5" height="124.2" fill="#000" opacity="0.05" filter="url(#grain)"/>
</g>
<rect x="262.3" y="1725.3" width="840.9" height="119.6" fill="none" stroke="#262223" stroke-width="4.6"/>
<text x="1528.9" y="1075.4" font-size="40" font-weight="700" textLength="139.6" lengthAdjust="spacingAndGlyphs" fill="#231f20">HUVEC</text>
<text x="1739.2" y="1075.4" font-size="40" textLength="318.7" lengthAdjust="spacingAndGlyphs" fill="#231f20">VP1u: 100 µg/mL</text>
<line x1="1423.0" y1="1103.0" x2="2258.5" y2="1103.0" stroke="#231f20" stroke-width="4"/>
<text x="1273.6" y="1152.7" font-size="34.5" font-weight="700" textLength="142.5" lengthAdjust="spacingAndGlyphs" fill="#231f20">Time (h):</text>
<text x="1492.5" y="1152.7" font-size="34.5" font-weight="700" text-anchor="middle" fill="#231f20">C1</text>
<text x="1600.4" y="1152.7" font-size="34.5" font-weight="700" text-anchor="middle" fill="#231f20">1</text>
<text x="1686.8" y="1152.7" font-size="34.5" font-weight="700" text-anchor="middle" fill="#231f20">2</text>
<text x="1782.0" y="1152.7" font-size="34.5" font-weight="700" text-anchor="middle" fill="#231f20">4</text>
<text x="1877.0" y="1152.7" font-size="34.5" font-weight="700" text-anchor="middle" fill="#231f20">6</text>
<text x="1974.6" y="1152.7" font-size="34.5" font-weight="700" text-anchor="middle" fill="#231f20">12</text>
<text x="2079.7" y="1152.7" font-size="34.5" font-weight="700" text-anchor="middle" fill="#231f20">24</text>
<text x="2186.8" y="1152.7" font-size="34.5" font-weight="700" text-anchor="middle" fill="#231f20">24C</text>
<text x="2309.0" y="1119.6" font-size="32" font-weight="700" text-anchor="middle" fill="#231f20">MW</text>
<text x="2309.7" y="1162.0" font-size="32" font-weight="700" text-anchor="middle" textLength="85.0" lengthAdjust="spacingAndGlyphs" fill="#231f20">(kDa)</text>
<text x="1397.5" y="1270.5" font-size="32.5" font-weight="700" text-anchor="end" textLength="92.7" lengthAdjust="spacingAndGlyphs" fill="#231f20">c-Fos</text>
<text x="1397.5" y="1393.6" font-size="32.5" font-weight="700" text-anchor="end" textLength="124.4" lengthAdjust="spacingAndGlyphs" fill="#231f20">p-c-Fos</text>
<text x="1397.5" y="1521.6" font-size="32.5" font-weight="700" text-anchor="end" textLength="93.8" lengthAdjust="spacingAndGlyphs" fill="#231f20">c-Jun</text>
<text x="1397.5" y="1653.5" font-size="32.5" font-weight="700" text-anchor="end" textLength="124.4" lengthAdjust="spacingAndGlyphs" fill="#231f20">p-c-Jun</text>
<text x="1397.5" y="1790.8" font-size="33.5" font-weight="700" text-anchor="end" textLength="124.4" lengthAdjust="spacingAndGlyphs" fill="#231f20">GAPDH</text>
<line x1="2262.5" y1="1261.7" x2="2285.5" y2="1261.7" stroke="#231f20" stroke-width="4.6"/>
<text x="2293.5" y="1271.2" font-size="31" font-weight="700" textLength="37.0" lengthAdjust="spacingAndGlyphs" fill="#231f20">62</text>
<line x1="2262.5" y1="1382.9" x2="2285.5" y2="1382.9" stroke="#231f20" stroke-width="4.6"/>
<text x="2293.5" y="1392.4" font-size="31" font-weight="700" textLength="37.0" lengthAdjust="spacingAndGlyphs" fill="#231f20">62</text>
<line x1="2262.5" y1="1514.7" x2="2285.5" y2="1514.7" stroke="#231f20" stroke-width="4.6"/>
<text x="2293.5" y="1521.6" font-size="31" font-weight="700" textLength="37.0" lengthAdjust="spacingAndGlyphs" fill="#231f20">37</text>
<line x1="2262.5" y1="1671.5" x2="2285.5" y2="1671.5" stroke="#231f20" stroke-width="4.6"/>
<text x="2293.5" y="1681.0" font-size="31" font-weight="700" textLength="37.0" lengthAdjust="spacingAndGlyphs" fill="#231f20">55</text>
<line x1="2262.5" y1="1774.8" x2="2285.5" y2="1774.8" stroke="#231f20" stroke-width="4.6"/>
<text x="2293.5" y="1783.6" font-size="31" font-weight="700" textLength="37.0" lengthAdjust="spacingAndGlyphs" fill="#231f20">37</text>
<clipPath id="cl6"><rect x="1418.0" y="1191.7" width="845.5" height="124.8"/></clipPath>
<g clip-path="url(#cl6)">
<rect x="1418.0" y="1191.7" width="845.5" height="124.8" fill="#dedede"/>
<rect x="1447.0" y="1237.8" width="91.0" height="23.4" rx="13.0" fill="#000" opacity="0.17" filter="url(#b5)"/>
<rect x="1449.0" y="1243.0" width="87.0" height="13.0" rx="6.5" fill="#000" opacity="0.97" filter="url(#b3)"/>
<rect x="1552.0" y="1244.6" width="72.0" height="19.8" rx="11.0" fill="#000" opacity="0.17" filter="url(#b5)" transform="rotate(3 1588.0 1254.5)"/>
<rect x="1554.0" y="1249.0" width="68.0" height="11.0" rx="5.5" fill="#000" opacity="0.92" filter="url(#b3)" transform="rotate(3 1588.0 1254.5)"/>
<rect x="1650.0" y="1251.4" width="74.0" height="16.2" rx="9.0" fill="#000" opacity="0.14" filter="url(#b5)" transform="rotate(3 1687.0 1259.5)"/>
<rect x="1652.0" y="1255.0" width="70.0" height="9.0" rx="4.5" fill="#000" opacity="0.75" filter="url(#b3)" transform="rotate(3 1687.0 1259.5)"/>
<rect x="1749.0" y="1255.9" width="71.0" height="16.2" rx="9.0" fill="#000" opacity="0.13" filter="url(#b5)"/>
<rect x="1751.0" y="1259.5" width="67.0" height="9.0" rx="4.5" fill="#000" opacity="0.72" filter="url(#b3)"/>
<rect x="1845.0" y="1255.9" width="82.0" height="16.2" rx="9.0" fill="#000" opacity="0.14" filter="url(#b5)"/>
<rect x="1847.0" y="1259.5" width="78.0" height="9.0" rx="4.5" fill="#000" opacity="0.8" filter="url(#b3)"/>
<rect x="1948.0" y="1255.2" width="78.0" height="21.6" rx="12.0" fill="#000" opacity="0.17" filter="url(#b5)"/>
<rect x="1950.0" y="1260.0" width="74.0" height="12.0" rx="6.0" fill="#000" opacity="0.95" filter="url(#b3)"/>
<rect x="2051.0" y="1257.0" width="75.0" height="18.0" rx="10.0" fill="#000" opacity="0.16" filter="url(#b5)"/>
<rect x="2053.0" y="1261.0" width="71.0" height="10.0" rx="5.0" fill="#000" opacity="0.88" filter="url(#b3)"/>
<rect x="2139.0" y="1251.0" width="109.0" height="27.0" rx="15.0" fill="#000" opacity="0.18" filter="url(#b5)"/>
<rect x="2141.0" y="1257.0" width="105.0" height="15.0" rx="7.5" fill="#000" opacity="1" filter="url(#b3)"/>
<rect x="1418.0" y="1191.7" width="845.5" height="124.8" fill="#000" opacity="0.08" filter="url(#grain)"/>
</g>
<rect x="1420.3" y="1194.0" width="840.9" height="120.2" fill="none" stroke="#262223" stroke-width="4.6"/>
<clipPath id="cl7"><rect x="1418.0" y="1327.4" width="845.5" height="123.6"/></clipPath>
<g clip-path="url(#cl7)">
<rect x="1418.0" y="1327.4" width="845.5" height="123.6" fill="#cdcdcd"/>
<rect x="1418.0" y="1420.0" width="845.0" height="30.0" fill="#000" opacity="0.04" filter="url(#b12)"/>
<rect x="1449.0" y="1380.5" width="73.0" height="7.0" rx="3.5" fill="#000" opacity="0.5" filter="url(#b3)"/>
<rect x="1554.0" y="1380.5" width="66.0" height="7.0" rx="3.5" fill="#000" opacity="0.5" filter="url(#b3)"/>
<rect x="1656.0" y="1386.5" width="69.0" height="7.0" rx="3.5" fill="#000" opacity="0.5" filter="url(#b3)"/>
<rect x="1758.0" y="1388.5" width="68.0" height="7.0" rx="3.5" fill="#000" opacity="0.5" filter="url(#b3)"/>
<rect x="1860.0" y="1390.0" width="67.0" height="8.0" rx="4.0" fill="#000" opacity="0.6" filter="url(#b3)"/>
<rect x="1963.0" y="1386.0" width="67.0" height="7.0" rx="3.5" fill="#000" opacity="0.55" filter="url(#b3)"/>
<rect x="2076.0" y="1389.5" width="55.0" height="9.0" rx="4.5" fill="#000" opacity="0.85" filter="url(#b3)"/>
<rect x="2158.0" y="1389.5" width="77.0" height="7.0" rx="3.5" fill="#000" opacity="0.6" filter="url(#b3)"/>
<rect x="1560.0" y="1411.5" width="60.0" height="9.0" rx="4.5" fill="#000" opacity="0.1" filter="url(#b5)"/>
<rect x="1660.0" y="1415.5" width="65.0" height="9.0" rx="4.5" fill="#000" opacity="0.12" filter="url(#b5)"/>
<rect x="1760.0" y="1417.5" width="66.0" height="9.0" rx="4.5" fill="#000" opacity="0.14" filter="url(#b5)"/>
<rect x="1862.0" y="1419.5" width="65.0" height="9.0" rx="4.5" fill="#000" opacity="0.14" filter="url(#b5)"/>
<rect x="1965.0" y="1417.5" width="65.0" height="9.0" rx="4.5" fill="#000" opacity="0.12" filter="url(#b5)"/>
<rect x="2076.0" y="1419.5" width="55.0" height="9.0" rx="4.5" fill="#000" opacity="0.1" filter="url(#b5)"/>
<rect x="1418.0" y="1327.4" width="845.5" height="123.6" fill="#000" opacity="0.12" filter="url(#grain)"/>
</g>
<rect x="1420.3" y="1329.7" width="840.9" height="119.0" fill="none" stroke="#262223" stroke-width="4.6"/>
<clipPath id="cl8"><rect x="1418.0" y="1459.3" width="845.5" height="124.3"/></clipPath>
<g clip-path="url(#cl8)">
<rect x="1418.0" y="1459.3" width="845.5" height="124.3" fill="#e2e2e2"/>
<rect x="1459.0" y="1504.0" width="64.0" height="13.0" rx="4" fill="#000" opacity="0.18" filter="url(#b5)"/>
<rect x="1457.0" y="1511.5" width="68.0" height="11.0" rx="5.5" fill="#000" opacity="0.6" filter="url(#b3)"/>
<rect x="1580.0" y="1511.5" width="37.0" height="13.0" rx="4" fill="#000" opacity="0.18" filter="url(#b5)"/>
<rect x="1578.0" y="1519.0" width="41.0" height="11.0" rx="5.5" fill="#000" opacity="0.6" filter="url(#b3)"/>
<rect x="1660.0" y="1515.5" width="54.0" height="13.0" rx="4" fill="#000" opacity="0.14" filter="url(#b5)"/>
<rect x="1658.0" y="1524.0" width="58.0" height="9.0" rx="4.5" fill="#000" opacity="0.45" filter="url(#b3)"/>
<rect x="1757.0" y="1517.5" width="55.0" height="13.0" rx="4" fill="#000" opacity="0.10" filter="url(#b5)"/>
<rect x="1755.0" y="1526.5" width="59.0" height="8.0" rx="4.0" fill="#000" opacity="0.35" filter="url(#b3)"/>
<rect x="1855.0" y="1519.0" width="56.0" height="13.0" rx="4" fill="#000" opacity="0.14" filter="url(#b5)"/>
<rect x="1853.0" y="1528.0" width="60.0" height="8.0" rx="4.0" fill="#000" opacity="0.45" filter="url(#b3)"/>
<rect x="1954.0" y="1519.5" width="57.0" height="13.0" rx="4" fill="#000" opacity="0.21" filter="url(#b5)"/>
<rect x="1952.0" y="1527.5" width="61.0" height="10.0" rx="5.0" fill="#000" opacity="0.7" filter="url(#b3)"/>
<rect x="2056.0" y="1516.0" width="50.0" height="13.0" rx="4" fill="#000" opacity="0.14" filter="url(#b5)"/>
<rect x="2054.0" y="1524.5" width="54.0" height="9.0" rx="4.5" fill="#000" opacity="0.45" filter="url(#b3)"/>
<rect x="2150.0" y="1508.0" width="78.0" height="13.0" rx="4" fill="#000" opacity="0.19" filter="url(#b5)"/>
<rect x="2148.0" y="1514.0" width="82.0" height="14.0" rx="7.0" fill="#000" opacity="0.62" filter="url(#b3)"/>
<rect x="1418.0" y="1459.3" width="845.5" height="124.3" fill="#000" opacity="0.08" filter="url(#grain)"/>
</g>
<rect x="1420.3" y="1461.6" width="840.9" height="119.7" fill="none" stroke="#262223" stroke-width="4.6"/>
<clipPath id="cl9"><rect x="1418.0" y="1590.4" width="845.5" height="124.3"/></clipPath>
<g clip-path="url(#cl9)">
<rect x="1418.0" y="1590.4" width="845.5" height="124.3" fill="#a9a9a9"/>
<rect x="1720.0" y="1620.0" width="260.0" height="100.0" fill="#000" opacity="0.2" filter="url(#b12)"/>
<rect x="1418.0" y="1600.0" width="182.0" height="100.0" fill="#fff" opacity="0.06" filter="url(#b12)"/>
<rect x="2140.0" y="1600.0" width="123.0" height="120.0" fill="#fff" opacity="0.12" filter="url(#b12)"/>
<rect x="1450.0" y="1671.5" width="70.0" height="7.0" rx="3.5" fill="#000" opacity="0.14" filter="url(#b5)"/>
<rect x="1560.0" y="1672.0" width="70.0" height="8.0" rx="4.0" fill="#000" opacity="0.32" filter="url(#b5)"/>
<rect x="1660.0" y="1668.5" width="75.0" height="9.0" rx="4.5" fill="#000" opacity="0.4" filter="url(#b5)"/>
<rect x="1760.0" y="1670.0" width="72.0" height="10.0" rx="5.0" fill="#000" opacity="0.5" filter="url(#b5)"/>
<rect x="1865.0" y="1668.5" width="70.0" height="9.0" rx="4.5" fill="#000" opacity="0.42" filter="url(#b5)"/>
<rect x="1968.0" y="1668.0" width="67.0" height="8.0" rx="4.0" fill="#000" opacity="0.32" filter="url(#b5)"/>
<rect x="2062.0" y="1669.5" width="73.0" height="9.0" rx="4.5" fill="#000" opacity="0.38" filter="url(#b5)"/>
<rect x="2168.0" y="1670.5" width="67.0" height="7.0" rx="3.5" fill="#000" opacity="0.16" filter="url(#b5)"/>
<rect x="1660.0" y="1638.0" width="75.0" height="8.0" rx="4.0" fill="#000" opacity="0.2" filter="url(#b5)"/>
<rect x="1760.0" y="1637.5" width="72.0" height="9.0" rx="4.5" fill="#000" opacity="0.28" filter="url(#b5)"/>
<rect x="1865.0" y="1638.0" width="70.0" height="8.0" rx="4.0" fill="#000" opacity="0.22" filter="url(#b5)"/>
<rect x="1968.0" y="1636.0" width="67.0" height="8.0" rx="4.0" fill="#000" opacity="0.16" filter="url(#b5)"/>
<rect x="2062.0" y="1637.5" width="58.0" height="7.0" rx="3.5" fill="#000" opacity="0.14" filter="url(#b5)"/>
<rect x="1418.0" y="1590.4" width="845.5" height="124.3" fill="#000" opacity="0.15" filter="url(#grain)"/>
</g>
<rect x="1420.3" y="1592.7" width="840.9" height="119.7" fill="none" stroke="#262223" stroke-width="4.6"/>
<clipPath id="cl10"><rect x="1418.0" y="1723.0" width="845.5" height="124.2"/></clipPath>
<g clip-path="url(#cl10)">
<rect x="1418.0" y="1723.0" width="845.5" height="124.2" fill="#e9e9e9"/>
<rect x="1451.0" y="1769.7" width="91.0" height="30.6" rx="17.0" fill="#000" opacity="0.18" filter="url(#b5)"/>
<rect x="1453.0" y="1776.5" width="87.0" height="17.0" rx="8.5" fill="#000" opacity="1" filter="url(#b2)"/>
<rect x="1560.0" y="1770.6" width="82.0" height="28.8" rx="16.0" fill="#000" opacity="0.18" filter="url(#b5)" transform="rotate(-6 1601.0 1785.0)"/>
<rect x="1562.0" y="1777.0" width="78.0" height="16.0" rx="8.0" fill="#000" opacity="1" filter="url(#b2)" transform="rotate(-6 1601.0 1785.0)"/>
<rect x="1657.0" y="1763.5" width="88.0" height="27.0" rx="15.0" fill="#000" opacity="0.18" filter="url(#b5)"/>
<rect x="1659.0" y="1769.5" width="84.0" height="15.0" rx="7.5" fill="#000" opacity="1" filter="url(#b2)"/>
<rect x="1758.0" y="1759.5" width="89.0" height="27.0" rx="15.0" fill="#000" opacity="0.18" filter="url(#b5)" transform="rotate(4 1802.5 1773.0)"/>
<rect x="1760.0" y="1765.5" width="85.0" height="15.0" rx="7.5" fill="#000" opacity="1" filter="url(#b2)" transform="rotate(4 1802.5 1773.0)"/>
<rect x="1862.0" y="1762.6" width="80.0" height="28.8" rx="16.0" fill="#000" opacity="0.18" filter="url(#b5)"/>
<rect x="1864.0" y="1769.0" width="76.0" height="16.0" rx="8.0" fill="#000" opacity="1" filter="url(#b2)"/>
<rect x="1963.0" y="1763.7" width="81.0" height="30.6" rx="17.0" fill="#000" opacity="0.18" filter="url(#b5)"/>
<rect x="1965.0" y="1770.5" width="77.0" height="17.0" rx="8.5" fill="#000" opacity="1" filter="url(#b2)"/>
<rect x="2065.0" y="1756.5" width="82.0" height="27.0" rx="15.0" fill="#000" opacity="0.18" filter="url(#b5)" transform="rotate(3 2106.0 1770.0)"/>
<rect x="2067.0" y="1762.5" width="78.0" height="15.0" rx="7.5" fill="#000" opacity="1" filter="url(#b2)" transform="rotate(3 2106.0 1770.0)"/>
<rect x="2158.0" y="1762.1" width="94.0" height="37.8" rx="21.0" fill="#000" opacity="0.18" filter="url(#b5)"/>
<rect x="2160.0" y="1770.5" width="90.0" height="21.0" rx="10.5" fill="#000" opacity="1" filter="url(#b2)"/>
<rect x="1418.0" y="1723.0" width="845.5" height="124.2" fill="#000" opacity="0.05" filter="url(#grain)"/>
</g>
<rect x="1420.3" y="1725.3" width="840.9" height="119.6" fill="none" stroke="#262223" stroke-width="4.6"/>
</g>
</svg>
</body>
</html>
